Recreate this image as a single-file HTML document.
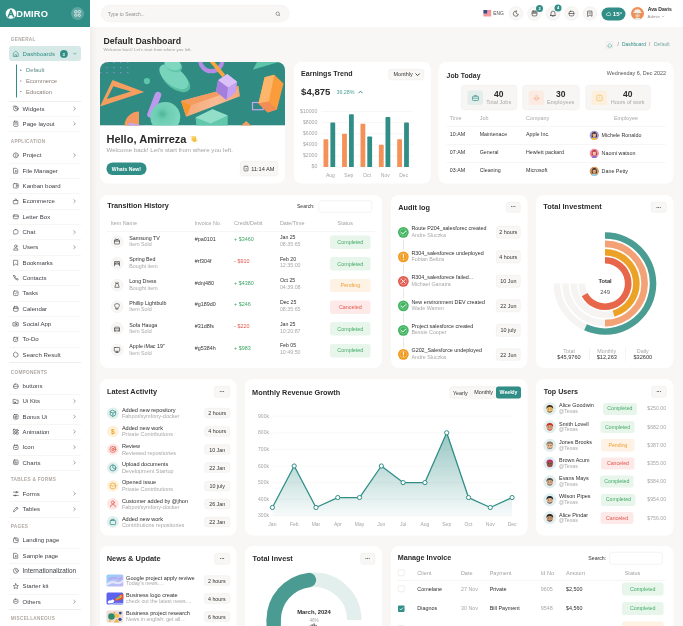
<!DOCTYPE html>
<html><head><meta charset="utf-8"><title>Admiro Default Dashboard</title>
<style>*{margin:0;padding:0;box-sizing:border-box}
html,body{width:683px;height:626px;overflow:hidden;background:#f8f7f5}
body{font-family:"Liberation Sans",Arial,sans-serif;position:relative}
.t{position:absolute;white-space:nowrap;line-height:1}
.r{position:absolute}
.s{position:absolute;overflow:visible}
#root{position:absolute;left:0;top:0;width:1366px;height:1252px;transform:scale(.5);transform-origin:0 0;overflow:hidden}
</style></head>
<body>
<div id="root">
<div class="r" style="left:0.00px;top:0.00px;width:180.00px;height:1252.00px;background:#fff;border-radius:0.00px;"></div>
<div class="r" style="left:180.00px;top:54.20px;width:14.00px;height:1200.00px;background:linear-gradient(90deg,rgba(0,0,0,0.035),rgba(0,0,0,0));border-radius:0.00px;"></div>
<div class="r" style="left:0.00px;top:0.00px;width:180.00px;height:54.10px;background:#308e87;border-radius:0.00px;"></div>
<svg class="s" style="left:10.60px;top:16.40px;" width="22.00" height="22.00" viewBox="0 0 11 11"><circle cx="5.5" cy="5.5" r="5.3" fill="#fff"/><path d="M2.6 9.3 L5.4 2.2 L8.3 9.3 M4 6.6 L7 6.6" stroke="#308e87" stroke-width="1.5" fill="none" stroke-linejoin="round"/></svg>
<div class="t" style="left:32.60px;top:17.74px;font-size:18.60px;color:#fff;font-weight:700;letter-spacing:0.30px;">DMIRO</div>
<svg class="s" style="left:142.00px;top:14.20px;" width="26.00" height="26.00" viewBox="0 0 13 13"><circle cx="6.5" cy="6.5" r="6.5" fill="rgba(255,255,255,0.22)"/><g fill="none" stroke="#fff" stroke-width="0.7"><rect x="3.6" y="3.6" width="2.3" height="2.3" rx="0.5"/><rect x="7.1" y="3.6" width="2.3" height="2.3" rx="0.5"/><circle cx="4.75" cy="8.25" r="1.15"/><circle cx="8.25" cy="8.25" r="1.15"/></g></svg>
<div class="t" style="left:21.60px;top:73.02px;font-size:9.40px;color:#b1a9a3;font-weight:700;letter-spacing:0.56px;">GENERAL</div>
<div class="r" style="left:18.20px;top:92.20px;width:143.60px;height:29.40px;background:#d7e9e6;border-radius:6.00px;"></div>
<svg class="s" style="left:25.20px;top:100.80px;" width="13.00" height="13.00" viewBox="0 0 12 12"><path d="M1.5 11 L1.5 5 L6 1.3 L10.5 5 L10.5 11 Z M4.6 11 L4.6 7.8 Q6 6.6 7.4 7.8 L7.4 11" stroke="#308e87" stroke-width="1.1" fill="none" stroke-linejoin="round"/></svg>
<div class="t" style="left:45.20px;top:100.84px;font-size:12.00px;color:#308e87;">Dashboards</div>
<svg class="s" style="left:119.60px;top:100.20px;" width="15.60" height="15.60" viewBox="0 0 7.8 7.8"><circle cx="3.9" cy="3.9" r="3.9" fill="#308e87"/></svg>
<div class="t" style="left:127.40px;top:103.55px;font-size:8.40px;color:#fff;font-weight:700;transform:translateX(-50%);">3</div>
<svg class="s" style="left:145.60px;top:105.20px;" width="7.20" height="4.80" viewBox="0 0 3.6 2.4"><path d="M0.3 0.3 L1.8 1.9 L3.3 0.3" stroke="#308e87" stroke-width="0.6" fill="none"/></svg>
<div class="r" style="left:32.00px;top:129.20px;width:1.60px;height:65.60px;background:#308e87;border-radius:0.00px;"></div>
<div class="r" style="left:40.40px;top:139.40px;width:2.20px;height:2.20px;background:#5c8d88;border-radius:2.00px;"></div>
<div class="t" style="left:52.20px;top:134.25px;font-size:11.60px;color:#5c8d88;">Default</div>
<div class="r" style="left:40.40px;top:161.00px;width:2.20px;height:2.20px;background:#8b807a;border-radius:2.00px;"></div>
<div class="t" style="left:52.20px;top:155.85px;font-size:11.60px;color:#8b807a;">Ecommerce</div>
<div class="r" style="left:40.40px;top:182.00px;width:2.20px;height:2.20px;background:#8b807a;border-radius:2.00px;"></div>
<div class="t" style="left:52.20px;top:176.85px;font-size:11.60px;color:#8b807a;">Education</div>
<div class="r" style="left:18.00px;top:202.40px;width:144.00px;height:1.20px;background:#efedea;border-radius:0.00px;"></div>
<div class="t" style="left:45.20px;top:210.59px;font-size:12.10px;color:#3c3f44;">Widgets</div>
<svg class="s" style="left:25.00px;top:210.40px;" width="13.20" height="13.20" viewBox="0 0 12 12"><circle cx="6" cy="6.5" r="4.3" stroke="#4a4d52" stroke-width="1.1" fill="none" stroke-linecap="round" stroke-linejoin="round"/><path d="M6 6.5 L6 2.2 M6 6.5 L9.8 8.5" stroke="#4a4d52" stroke-width="1.1" fill="none" stroke-linecap="round" stroke-linejoin="round"/><path d="M1 3 L3 1" stroke="#4a4d52" stroke-width="1.1" fill="none" stroke-linecap="round" stroke-linejoin="round"/></svg>
<svg class="s" style="left:145.80px;top:212.60px;" width="6.00" height="8.80" viewBox="0 0 3 4.4"><path d="M0.5 0.5 L2.4 2.2 L0.5 3.9" stroke="#6b6b6b" stroke-width="0.6" fill="none"/></svg>
<div class="r" style="left:18.00px;top:232.30px;width:144.00px;height:1.20px;background:#efedea;border-radius:0.00px;"></div>
<div class="t" style="left:45.20px;top:241.39px;font-size:12.10px;color:#3c3f44;">Page layout</div>
<svg class="s" style="left:25.00px;top:241.20px;" width="13.20" height="13.20" viewBox="0 0 12 12"><rect x="2.3" y="1.3" width="7.4" height="9.4" rx="1.4" stroke="#4a4d52" stroke-width="1.1" fill="none" stroke-linecap="round" stroke-linejoin="round"/><path d="M4.3 4 L7.7 4 M4.3 6.5 L7.7 6.5" stroke="#4a4d52" stroke-width="1.1" fill="none" stroke-linecap="round" stroke-linejoin="round"/></svg>
<svg class="s" style="left:145.80px;top:243.40px;" width="6.00" height="8.80" viewBox="0 0 3 4.4"><path d="M0.5 0.5 L2.4 2.2 L0.5 3.9" stroke="#6b6b6b" stroke-width="0.6" fill="none"/></svg>
<div class="r" style="left:18.00px;top:263.10px;width:144.00px;height:1.20px;background:#efedea;border-radius:0.00px;"></div>
<div class="t" style="left:21.60px;top:277.02px;font-size:9.40px;color:#b1a9a3;font-weight:700;letter-spacing:0.56px;">APPLICATION</div>
<div class="t" style="left:45.20px;top:304.19px;font-size:12.10px;color:#3c3f44;">Project</div>
<svg class="s" style="left:25.00px;top:304.00px;" width="13.20" height="13.20" viewBox="0 0 12 12"><circle cx="6" cy="6" r="4.5" stroke="#4a4d52" stroke-width="1.1" fill="none" stroke-linecap="round" stroke-linejoin="round"/><path d="M6 3.5 L6 8.5" stroke="#4a4d52" stroke-width="1.1" fill="none" stroke-linecap="round" stroke-linejoin="round"/></svg>
<svg class="s" style="left:145.80px;top:306.20px;" width="6.00" height="8.80" viewBox="0 0 3 4.4"><path d="M0.5 0.5 L2.4 2.2 L0.5 3.9" stroke="#6b6b6b" stroke-width="0.6" fill="none"/></svg>
<div class="r" style="left:18.00px;top:325.90px;width:144.00px;height:1.20px;background:#efedea;border-radius:0.00px;"></div>
<div class="t" style="left:45.20px;top:334.85px;font-size:12.10px;color:#3c3f44;">File Manager</div>
<svg class="s" style="left:25.00px;top:334.66px;" width="13.20" height="13.20" viewBox="0 0 12 12"><path d="M2.5 1.5 L7 1.5 L9.5 4 L9.5 10.5 L2.5 10.5 Z" stroke="#4a4d52" stroke-width="1.1" fill="none" stroke-linecap="round" stroke-linejoin="round"/><path d="M5 6.5 L7 6.5 M6 5.5 L6 8.5" stroke="#4a4d52" stroke-width="1.1" fill="none" stroke-linecap="round" stroke-linejoin="round"/></svg>
<div class="r" style="left:18.00px;top:356.56px;width:144.00px;height:1.20px;background:#efedea;border-radius:0.00px;"></div>
<div class="t" style="left:45.20px;top:365.51px;font-size:12.10px;color:#3c3f44;">Kanban board</div>
<svg class="s" style="left:25.00px;top:365.32px;" width="13.20" height="13.20" viewBox="0 0 12 12"><rect x="1.5" y="2" width="9" height="8" rx="1.8" stroke="#4a4d52" stroke-width="1.1" fill="none" stroke-linecap="round" stroke-linejoin="round"/><path d="M7 4.5 L7 7.5 L9.5 6 Z" stroke="#4a4d52" stroke-width="1.1" fill="none" stroke-linecap="round" stroke-linejoin="round"/></svg>
<div class="r" style="left:18.00px;top:387.22px;width:144.00px;height:1.20px;background:#efedea;border-radius:0.00px;"></div>
<div class="t" style="left:45.20px;top:396.17px;font-size:12.10px;color:#3c3f44;">Ecommerce</div>
<svg class="s" style="left:25.00px;top:395.98px;" width="13.20" height="13.20" viewBox="0 0 12 12"><path d="M2 4.5 L10 4.5 L9.5 10.5 L2.5 10.5 Z M4 4.5 Q4 1.5 6 1.5 Q8 1.5 8 4.5" stroke="#4a4d52" stroke-width="1.1" fill="none" stroke-linecap="round" stroke-linejoin="round"/></svg>
<svg class="s" style="left:145.80px;top:398.18px;" width="6.00" height="8.80" viewBox="0 0 3 4.4"><path d="M0.5 0.5 L2.4 2.2 L0.5 3.9" stroke="#6b6b6b" stroke-width="0.6" fill="none"/></svg>
<div class="r" style="left:18.00px;top:417.88px;width:144.00px;height:1.20px;background:#efedea;border-radius:0.00px;"></div>
<div class="t" style="left:45.20px;top:426.83px;font-size:12.10px;color:#3c3f44;">Letter Box</div>
<svg class="s" style="left:25.00px;top:426.64px;" width="13.20" height="13.20" viewBox="0 0 12 12"><rect x="1.5" y="2.5" width="9" height="7" rx="1.5" stroke="#4a4d52" stroke-width="1.1" fill="none" stroke-linecap="round" stroke-linejoin="round"/><path d="M1.5 5 L10.5 5" stroke="#4a4d52" stroke-width="1.1" fill="none" stroke-linecap="round" stroke-linejoin="round"/></svg>
<div class="r" style="left:18.00px;top:448.54px;width:144.00px;height:1.20px;background:#efedea;border-radius:0.00px;"></div>
<div class="t" style="left:45.20px;top:457.49px;font-size:12.10px;color:#3c3f44;">Chat</div>
<svg class="s" style="left:25.00px;top:457.30px;" width="13.20" height="13.20" viewBox="0 0 12 12"><path d="M6 1.8 Q10.5 1.8 10.5 6 Q10.5 10.2 6 10.2 L2 10.2 L2.6 8.4 Q1.5 7.5 1.5 6 Q1.5 1.8 6 1.8 Z" stroke="#4a4d52" stroke-width="1.1" fill="none" stroke-linecap="round" stroke-linejoin="round"/></svg>
<svg class="s" style="left:145.80px;top:459.50px;" width="6.00" height="8.80" viewBox="0 0 3 4.4"><path d="M0.5 0.5 L2.4 2.2 L0.5 3.9" stroke="#6b6b6b" stroke-width="0.6" fill="none"/></svg>
<div class="r" style="left:18.00px;top:479.20px;width:144.00px;height:1.20px;background:#efedea;border-radius:0.00px;"></div>
<div class="t" style="left:45.20px;top:488.15px;font-size:12.10px;color:#3c3f44;">Users</div>
<svg class="s" style="left:25.00px;top:487.96px;" width="13.20" height="13.20" viewBox="0 0 12 12"><circle cx="6" cy="4" r="2.3" stroke="#4a4d52" stroke-width="1.1" fill="none" stroke-linecap="round" stroke-linejoin="round"/><path d="M2 10.5 Q2 7.2 6 7.2 Q10 7.2 10 10.5 Z" stroke="#4a4d52" stroke-width="1.1" fill="none" stroke-linecap="round" stroke-linejoin="round"/></svg>
<svg class="s" style="left:145.80px;top:490.16px;" width="6.00" height="8.80" viewBox="0 0 3 4.4"><path d="M0.5 0.5 L2.4 2.2 L0.5 3.9" stroke="#6b6b6b" stroke-width="0.6" fill="none"/></svg>
<div class="r" style="left:18.00px;top:509.86px;width:144.00px;height:1.20px;background:#efedea;border-radius:0.00px;"></div>
<div class="t" style="left:45.20px;top:518.81px;font-size:12.10px;color:#3c3f44;">Bookmarks</div>
<svg class="s" style="left:25.00px;top:518.62px;" width="13.20" height="13.20" viewBox="0 0 12 12"><path d="M2.5 1.5 L9.5 1.5 L9.5 10.5 L6 8 L2.5 10.5 Z" stroke="#4a4d52" stroke-width="1.1" fill="none" stroke-linecap="round" stroke-linejoin="round"/></svg>
<div class="r" style="left:18.00px;top:540.52px;width:144.00px;height:1.20px;background:#efedea;border-radius:0.00px;"></div>
<div class="t" style="left:45.20px;top:549.47px;font-size:12.10px;color:#3c3f44;">Contacts</div>
<svg class="s" style="left:25.00px;top:549.28px;" width="13.20" height="13.20" viewBox="0 0 12 12"><path d="M2 2.5 L4 1.5 L5.5 4 L4.3 5 Q5.5 7.2 7.5 8 L8.5 6.7 L10.5 8.2 L9.5 10.3 Q4 10 2 2.5 Z" stroke="#4a4d52" stroke-width="1.1" fill="none" stroke-linecap="round" stroke-linejoin="round"/></svg>
<div class="r" style="left:18.00px;top:571.18px;width:144.00px;height:1.20px;background:#efedea;border-radius:0.00px;"></div>
<div class="t" style="left:45.20px;top:580.13px;font-size:12.10px;color:#3c3f44;">Tasks</div>
<svg class="s" style="left:25.00px;top:579.94px;" width="13.20" height="13.20" viewBox="0 0 12 12"><rect x="1.8" y="1.8" width="8.4" height="8.4" rx="1.8" stroke="#4a4d52" stroke-width="1.1" fill="none" stroke-linecap="round" stroke-linejoin="round"/><path d="M4 6 L5.5 7.5 L8 4.5" stroke="#4a4d52" stroke-width="1.1" fill="none" stroke-linecap="round" stroke-linejoin="round"/></svg>
<div class="r" style="left:18.00px;top:601.84px;width:144.00px;height:1.20px;background:#efedea;border-radius:0.00px;"></div>
<div class="t" style="left:45.20px;top:610.79px;font-size:12.10px;color:#3c3f44;">Calendar</div>
<svg class="s" style="left:25.00px;top:610.60px;" width="13.20" height="13.20" viewBox="0 0 12 12"><rect x="1.8" y="2.5" width="8.4" height="8" rx="1.8" stroke="#4a4d52" stroke-width="1.1" fill="none" stroke-linecap="round" stroke-linejoin="round"/><path d="M4 1.2 L4 3.5 M8 1.2 L8 3.5 M1.8 5.5 L10.2 5.5" stroke="#4a4d52" stroke-width="1.1" fill="none" stroke-linecap="round" stroke-linejoin="round"/></svg>
<div class="r" style="left:18.00px;top:632.50px;width:144.00px;height:1.20px;background:#efedea;border-radius:0.00px;"></div>
<div class="t" style="left:45.20px;top:641.45px;font-size:12.10px;color:#3c3f44;">Social App</div>
<svg class="s" style="left:25.00px;top:641.26px;" width="13.20" height="13.20" viewBox="0 0 12 12"><path d="M1.5 4 L4 4 L5 2.5 L7 2.5 L8 4 L10.5 4 L10.5 10 L1.5 10 Z" stroke="#4a4d52" stroke-width="1.1" fill="none" stroke-linecap="round" stroke-linejoin="round"/><circle cx="6" cy="6.8" r="1.7" stroke="#4a4d52" stroke-width="1.1" fill="none" stroke-linecap="round" stroke-linejoin="round"/></svg>
<div class="r" style="left:18.00px;top:663.16px;width:144.00px;height:1.20px;background:#efedea;border-radius:0.00px;"></div>
<div class="t" style="left:45.20px;top:672.11px;font-size:12.10px;color:#3c3f44;">To-Do</div>
<svg class="s" style="left:25.00px;top:671.92px;" width="13.20" height="13.20" viewBox="0 0 12 12"><rect x="1.8" y="2.5" width="7.5" height="7.5" rx="1.5" stroke="#4a4d52" stroke-width="1.1" fill="none" stroke-linecap="round" stroke-linejoin="round"/><path d="M4 6 L5.5 7.5 L10 2" stroke="#4a4d52" stroke-width="1.1" fill="none" stroke-linecap="round" stroke-linejoin="round"/></svg>
<div class="r" style="left:18.00px;top:693.82px;width:144.00px;height:1.20px;background:#efedea;border-radius:0.00px;"></div>
<div class="t" style="left:45.20px;top:702.77px;font-size:12.10px;color:#3c3f44;">Search Result</div>
<svg class="s" style="left:25.00px;top:702.58px;" width="13.20" height="13.20" viewBox="0 0 12 12"><path d="M6 1.5 L10 4 L10 8.5 L6 10.5 L2 8.5 L2 4 Z" stroke="#4a4d52" stroke-width="1.1" fill="none" stroke-linecap="round" stroke-linejoin="round"/></svg>
<div class="r" style="left:18.00px;top:724.48px;width:144.00px;height:1.20px;background:#efedea;border-radius:0.00px;"></div>
<div class="t" style="left:21.60px;top:738.82px;font-size:9.40px;color:#b1a9a3;font-weight:700;letter-spacing:0.56px;">COMPONENTS</div>
<div class="t" style="left:45.20px;top:765.79px;font-size:12.10px;color:#3c3f44;">buttons</div>
<svg class="s" style="left:25.00px;top:765.60px;" width="13.20" height="13.20" viewBox="0 0 12 12"><rect x="1.8" y="2" width="8.4" height="8" rx="3" stroke="#4a4d52" stroke-width="1.1" fill="none" stroke-linecap="round" stroke-linejoin="round"/><path d="M1.8 6 L10.2 6" stroke="#4a4d52" stroke-width="1.1" fill="none" stroke-linecap="round" stroke-linejoin="round"/></svg>
<div class="r" style="left:18.00px;top:787.50px;width:144.00px;height:1.20px;background:#efedea;border-radius:0.00px;"></div>
<div class="t" style="left:45.20px;top:796.35px;font-size:12.10px;color:#3c3f44;">Ui Kits</div>
<svg class="s" style="left:25.00px;top:796.16px;" width="13.20" height="13.20" viewBox="0 0 12 12"><path d="M1.8 2.5 L5 2.5 L6 3.8 L10.2 3.8 L10.2 10 L1.8 10 Z" stroke="#4a4d52" stroke-width="1.1" fill="none" stroke-linecap="round" stroke-linejoin="round"/><circle cx="4.5" cy="8" r="1.2" stroke="#4a4d52" stroke-width="1.1" fill="none" stroke-linecap="round" stroke-linejoin="round"/></svg>
<svg class="s" style="left:145.80px;top:798.36px;" width="6.00" height="8.80" viewBox="0 0 3 4.4"><path d="M0.5 0.5 L2.4 2.2 L0.5 3.9" stroke="#6b6b6b" stroke-width="0.6" fill="none"/></svg>
<div class="r" style="left:18.00px;top:818.06px;width:144.00px;height:1.20px;background:#efedea;border-radius:0.00px;"></div>
<div class="t" style="left:45.20px;top:826.91px;font-size:12.10px;color:#3c3f44;">Bonus Ui</div>
<svg class="s" style="left:25.00px;top:826.72px;" width="13.20" height="13.20" viewBox="0 0 12 12"><rect x="1.8" y="1.8" width="8.4" height="8.4" rx="1.8" stroke="#4a4d52" stroke-width="1.1" fill="none" stroke-linecap="round" stroke-linejoin="round"/><path d="M4 5 L8 5 M4 7.5 L6 7.5 M6.5 4 L6.5 9" stroke="#4a4d52" stroke-width="1.1" fill="none" stroke-linecap="round" stroke-linejoin="round"/></svg>
<svg class="s" style="left:145.80px;top:828.92px;" width="6.00" height="8.80" viewBox="0 0 3 4.4"><path d="M0.5 0.5 L2.4 2.2 L0.5 3.9" stroke="#6b6b6b" stroke-width="0.6" fill="none"/></svg>
<div class="r" style="left:18.00px;top:848.62px;width:144.00px;height:1.20px;background:#efedea;border-radius:0.00px;"></div>
<div class="t" style="left:45.20px;top:857.47px;font-size:12.10px;color:#3c3f44;">Animation</div>
<svg class="s" style="left:25.00px;top:857.28px;" width="13.20" height="13.20" viewBox="0 0 12 12"><rect x="1.5" y="1.5" width="3.8" height="3.8" rx="0.8" stroke="#4a4d52" stroke-width="1.1" fill="none" stroke-linecap="round" stroke-linejoin="round"/><circle cx="8.6" cy="3.4" r="1.9" stroke="#4a4d52" stroke-width="1.1" fill="none" stroke-linecap="round" stroke-linejoin="round"/><circle cx="3.4" cy="8.6" r="1.9" stroke="#4a4d52" stroke-width="1.1" fill="none" stroke-linecap="round" stroke-linejoin="round"/><rect x="6.7" y="6.7" width="3.8" height="3.8" rx="0.8" stroke="#4a4d52" stroke-width="1.1" fill="none" stroke-linecap="round" stroke-linejoin="round"/></svg>
<svg class="s" style="left:145.80px;top:859.48px;" width="6.00" height="8.80" viewBox="0 0 3 4.4"><path d="M0.5 0.5 L2.4 2.2 L0.5 3.9" stroke="#6b6b6b" stroke-width="0.6" fill="none"/></svg>
<div class="r" style="left:18.00px;top:879.18px;width:144.00px;height:1.20px;background:#efedea;border-radius:0.00px;"></div>
<div class="t" style="left:45.20px;top:888.03px;font-size:12.10px;color:#3c3f44;">Icon</div>
<svg class="s" style="left:25.00px;top:887.84px;" width="13.20" height="13.20" viewBox="0 0 12 12"><rect x="1.8" y="2.5" width="8.4" height="7.5" rx="1.8" stroke="#4a4d52" stroke-width="1.1" fill="none" stroke-linecap="round" stroke-linejoin="round"/><path d="M4 1.2 L4 3.5 M8 1.2 L8 3.5 M4.5 6.5 L7.5 6.5" stroke="#4a4d52" stroke-width="1.1" fill="none" stroke-linecap="round" stroke-linejoin="round"/></svg>
<svg class="s" style="left:145.80px;top:890.04px;" width="6.00" height="8.80" viewBox="0 0 3 4.4"><path d="M0.5 0.5 L2.4 2.2 L0.5 3.9" stroke="#6b6b6b" stroke-width="0.6" fill="none"/></svg>
<div class="r" style="left:18.00px;top:909.74px;width:144.00px;height:1.20px;background:#efedea;border-radius:0.00px;"></div>
<div class="t" style="left:45.20px;top:918.59px;font-size:12.10px;color:#3c3f44;">Charts</div>
<svg class="s" style="left:25.00px;top:918.40px;" width="13.20" height="13.20" viewBox="0 0 12 12"><rect x="1.8" y="1.8" width="8.4" height="8.4" rx="1.8" stroke="#4a4d52" stroke-width="1.1" fill="none" stroke-linecap="round" stroke-linejoin="round"/><path d="M4 8 L4 5 M6 8 L6 4 M8 8 L8 6" stroke="#4a4d52" stroke-width="1.1" fill="none" stroke-linecap="round" stroke-linejoin="round"/></svg>
<svg class="s" style="left:145.80px;top:920.60px;" width="6.00" height="8.80" viewBox="0 0 3 4.4"><path d="M0.5 0.5 L2.4 2.2 L0.5 3.9" stroke="#6b6b6b" stroke-width="0.6" fill="none"/></svg>
<div class="r" style="left:18.00px;top:940.30px;width:144.00px;height:1.20px;background:#efedea;border-radius:0.00px;"></div>
<div class="t" style="left:21.60px;top:954.02px;font-size:9.40px;color:#b1a9a3;font-weight:700;letter-spacing:0.56px;">TABLES &amp; FORMS</div>
<div class="t" style="left:45.20px;top:981.39px;font-size:12.10px;color:#3c3f44;">Forms</div>
<svg class="s" style="left:25.00px;top:981.20px;" width="13.20" height="13.20" viewBox="0 0 12 12"><path d="M1.5 3 L6 3 M8.5 3 L10.5 3 M1.5 9 L3.5 9 M6 9 L10.5 9" stroke="#4a4d52" stroke-width="1.1" fill="none" stroke-linecap="round" stroke-linejoin="round"/><circle cx="7.2" cy="3" r="1.2" stroke="#4a4d52" stroke-width="1.1" fill="none" stroke-linecap="round" stroke-linejoin="round"/><circle cx="4.8" cy="9" r="1.2" stroke="#4a4d52" stroke-width="1.1" fill="none" stroke-linecap="round" stroke-linejoin="round"/></svg>
<svg class="s" style="left:145.80px;top:983.40px;" width="6.00" height="8.80" viewBox="0 0 3 4.4"><path d="M0.5 0.5 L2.4 2.2 L0.5 3.9" stroke="#6b6b6b" stroke-width="0.6" fill="none"/></svg>
<div class="r" style="left:18.00px;top:1003.10px;width:144.00px;height:1.20px;background:#efedea;border-radius:0.00px;"></div>
<div class="t" style="left:45.20px;top:1011.79px;font-size:12.10px;color:#3c3f44;">Tables</div>
<svg class="s" style="left:25.00px;top:1011.60px;" width="13.20" height="13.20" viewBox="0 0 12 12"><path d="M2 10 L2.5 7.5 L8 2 L10 4 L4.5 9.5 Z M7 3 L9 5" stroke="#4a4d52" stroke-width="1.1" fill="none" stroke-linecap="round" stroke-linejoin="round"/></svg>
<svg class="s" style="left:145.80px;top:1013.80px;" width="6.00" height="8.80" viewBox="0 0 3 4.4"><path d="M0.5 0.5 L2.4 2.2 L0.5 3.9" stroke="#6b6b6b" stroke-width="0.6" fill="none"/></svg>
<div class="r" style="left:18.00px;top:1033.50px;width:144.00px;height:1.20px;background:#efedea;border-radius:0.00px;"></div>
<div class="t" style="left:21.60px;top:1047.02px;font-size:9.40px;color:#b1a9a3;font-weight:700;letter-spacing:0.56px;">PAGES</div>
<div class="t" style="left:45.20px;top:1074.39px;font-size:12.10px;color:#3c3f44;">Landing page</div>
<svg class="s" style="left:25.00px;top:1074.20px;" width="13.20" height="13.20" viewBox="0 0 12 12"><rect x="1.8" y="1.8" width="8.4" height="8.4" rx="1.8" stroke="#4a4d52" stroke-width="1.1" fill="none" stroke-linecap="round" stroke-linejoin="round"/><path d="M6 1.8 L6 6 L10.2 6" stroke="#4a4d52" stroke-width="1.1" fill="none" stroke-linecap="round" stroke-linejoin="round"/></svg>
<div class="r" style="left:18.00px;top:1096.10px;width:144.00px;height:1.20px;background:#efedea;border-radius:0.00px;"></div>
<div class="t" style="left:45.20px;top:1104.95px;font-size:12.10px;color:#3c3f44;">Sample page</div>
<svg class="s" style="left:25.00px;top:1104.76px;" width="13.20" height="13.20" viewBox="0 0 12 12"><path d="M2.5 1.5 L7 1.5 L9.5 4 L9.5 10.5 L2.5 10.5 Z" stroke="#4a4d52" stroke-width="1.1" fill="none" stroke-linecap="round" stroke-linejoin="round"/><path d="M5 6.5 L7 6.5 M6 5.5 L6 8.5" stroke="#4a4d52" stroke-width="1.1" fill="none" stroke-linecap="round" stroke-linejoin="round"/></svg>
<div class="r" style="left:18.00px;top:1126.66px;width:144.00px;height:1.20px;background:#efedea;border-radius:0.00px;"></div>
<div class="t" style="left:45.20px;top:1135.17px;font-size:12.74px;color:#3c3f44;">Internationalization</div>
<svg class="s" style="left:25.00px;top:1135.32px;" width="13.20" height="13.20" viewBox="0 0 12 12"><circle cx="6" cy="6" r="4.5" stroke="#4a4d52" stroke-width="1.1" fill="none" stroke-linecap="round" stroke-linejoin="round"/><path d="M6 3.5 L6 6.5 L7.8 7.5" stroke="#4a4d52" stroke-width="1.1" fill="none" stroke-linecap="round" stroke-linejoin="round"/></svg>
<div class="r" style="left:18.00px;top:1157.22px;width:144.00px;height:1.20px;background:#efedea;border-radius:0.00px;"></div>
<div class="t" style="left:45.20px;top:1166.07px;font-size:12.10px;color:#3c3f44;">Starter kit</div>
<svg class="s" style="left:25.00px;top:1165.88px;" width="13.20" height="13.20" viewBox="0 0 12 12"><path d="M6 1.3 L7.4 4.4 L10.7 4.7 L8.2 7 L9 10.3 L6 8.6 L3 10.3 L3.8 7 L1.3 4.7 L4.6 4.4 Z" stroke="#4a4d52" stroke-width="1.1" fill="none" stroke-linecap="round" stroke-linejoin="round"/></svg>
<div class="r" style="left:18.00px;top:1187.78px;width:144.00px;height:1.20px;background:#efedea;border-radius:0.00px;"></div>
<div class="t" style="left:45.20px;top:1196.63px;font-size:12.10px;color:#3c3f44;">Others</div>
<svg class="s" style="left:25.00px;top:1196.44px;" width="13.20" height="13.20" viewBox="0 0 12 12"><rect x="1.8" y="2" width="8.4" height="8" rx="3.5" stroke="#4a4d52" stroke-width="1.1" fill="none" stroke-linecap="round" stroke-linejoin="round"/><path d="M3.8 6 L8.2 6" stroke="#4a4d52" stroke-width="1.1" fill="none" stroke-linecap="round" stroke-linejoin="round"/></svg>
<svg class="s" style="left:145.80px;top:1198.64px;" width="6.00" height="8.80" viewBox="0 0 3 4.4"><path d="M0.5 0.5 L2.4 2.2 L0.5 3.9" stroke="#6b6b6b" stroke-width="0.6" fill="none"/></svg>
<div class="r" style="left:18.00px;top:1218.34px;width:144.00px;height:1.20px;background:#efedea;border-radius:0.00px;"></div>
<div class="t" style="left:21.60px;top:1231.42px;font-size:9.40px;color:#b1a9a3;font-weight:700;letter-spacing:0.56px;">MISCELLANEOUS</div>
<div class="r" style="left:180.00px;top:0.00px;width:1186.00px;height:54.20px;background:#fff;border-radius:0.00px;"></div>
<div class="r" style="left:201.60px;top:10.20px;width:377.20px;height:33.40px;background:#f8f7f5;border-radius:16.80px;border:1.00px solid #efedea;box-sizing:border-box;"></div>
<div class="t" style="left:215.60px;top:22.62px;font-size:9.78px;color:#8e8e8e;">Type to Search...</div>
<svg class="s" style="left:551.40px;top:23.00px;" width="10.00" height="10.00" viewBox="0 0 5 5"><circle cx="2.2" cy="2.2" r="1.7" stroke="#555" stroke-width="0.55" fill="none"/><path d="M3.4 3.4 L4.5 4.5" stroke="#555" stroke-width="0.55"/></svg>
<svg class="s" style="left:967.00px;top:20.00px;" width="15.40" height="13.20" viewBox="0 0 7.7 6.6"><rect width="7.7" height="6.6" fill="#fff"/><rect y="0.00" width="7.7" height="0.55" fill="#e03a45"/><rect y="0.95" width="7.7" height="0.55" fill="#e03a45"/><rect y="1.90" width="7.7" height="0.55" fill="#e03a45"/><rect y="2.85" width="7.7" height="0.55" fill="#e03a45"/><rect y="3.80" width="7.7" height="0.55" fill="#e03a45"/><rect y="4.75" width="7.7" height="0.55" fill="#e03a45"/><rect y="5.70" width="7.7" height="0.55" fill="#e03a45"/><rect width="3.6" height="3.5" fill="#34508f"/></svg>
<div class="t" style="left:986.40px;top:22.06px;font-size:9.70px;color:#4a4a4a;">ENG</div>
<svg class="s" style="left:1017.60px;top:13.00px;" width="28.00" height="28.00" viewBox="0 0 14 14"><circle cx="7" cy="7" r="6.8" fill="#f8f7f5" stroke="#ebe9e6" stroke-width="0.5"/></svg>
<svg class="s" style="left:1054.60px;top:13.00px;" width="28.00" height="28.00" viewBox="0 0 14 14"><circle cx="7" cy="7" r="6.8" fill="#f8f7f5" stroke="#ebe9e6" stroke-width="0.5"/></svg>
<svg class="s" style="left:1091.60px;top:13.00px;" width="28.00" height="28.00" viewBox="0 0 14 14"><circle cx="7" cy="7" r="6.8" fill="#f8f7f5" stroke="#ebe9e6" stroke-width="0.5"/></svg>
<svg class="s" style="left:1128.60px;top:13.00px;" width="28.00" height="28.00" viewBox="0 0 14 14"><circle cx="7" cy="7" r="6.8" fill="#f8f7f5" stroke="#ebe9e6" stroke-width="0.5"/></svg>
<svg class="s" style="left:1166.00px;top:13.00px;" width="28.00" height="28.00" viewBox="0 0 14 14"><circle cx="7" cy="7" r="6.8" fill="#f8f7f5" stroke="#ebe9e6" stroke-width="0.5"/></svg>
<svg class="s" style="left:1025.60px;top:21.00px;" width="12.00" height="12.00" viewBox="0 0 6 6"><path d="M3.2 0.6 A2.6 2.6 0 1 0 5.4 3.8 A2.2 2.2 0 0 1 3.2 0.6 Z" stroke="#3a3a3a" stroke-width="0.65" fill="none" stroke-linecap="round" stroke-linejoin="round"/></svg>
<svg class="s" style="left:1062.60px;top:21.00px;" width="12.00" height="12.00" viewBox="0 0 6 6"><rect x="0.6" y="0.6" width="4.8" height="4.8" rx="0.9" stroke="#3a3a3a" stroke-width="0.65" fill="none" stroke-linecap="round" stroke-linejoin="round"/><path d="M0.6 2.6 L5.4 2.6 M2.3 0.6 L2.3 2.6 M3.7 0.6 L3.7 2.6" stroke="#3a3a3a" stroke-width="0.65" fill="none" stroke-linecap="round" stroke-linejoin="round"/></svg>
<svg class="s" style="left:1099.60px;top:21.00px;" width="12.00" height="12.00" viewBox="0 0 6 6"><path d="M1 4.4 L1 2.8 Q1 0.6 3 0.6 Q5 0.6 5 2.8 L5 4.4 L5.6 5 L0.4 5 Z M2.2 5.6 L3.8 5.6" stroke="#3a3a3a" stroke-width="0.65" fill="none" stroke-linecap="round" stroke-linejoin="round"/></svg>
<svg class="s" style="left:1136.60px;top:21.00px;" width="12.00" height="12.00" viewBox="0 0 6 6"><rect x="0.6" y="0.8" width="4.8" height="4.6" rx="1.5" stroke="#3a3a3a" stroke-width="0.65" fill="none" stroke-linecap="round" stroke-linejoin="round"/><path d="M0.6 3 L5.4 3" stroke="#3a3a3a" stroke-width="0.65" fill="none" stroke-linecap="round" stroke-linejoin="round"/></svg>
<svg class="s" style="left:1174.00px;top:20.80px;" width="12.00" height="12.80" viewBox="0 0 6 6.4"><path d="M1 0.6 L5 0.6 L5 5.8 L3 4.4 L1 5.8 Z" stroke="#3a3a3a" stroke-width="0.65" fill="none" stroke-linecap="round" stroke-linejoin="round"/><path d="M2 2.5 L4 2.5" stroke="#3a3a3a" stroke-width="0.65" fill="none" stroke-linecap="round" stroke-linejoin="round"/></svg>
<svg class="s" style="left:1072.20px;top:9.60px;" width="14.00" height="14.00" viewBox="0 0 7 7"><circle cx="3.5" cy="3.5" r="3.5" fill="#308e87"/></svg>
<div class="t" style="left:1079.20px;top:12.56px;font-size:8.00px;color:#fff;font-weight:700;transform:translateX(-50%);">2</div>
<svg class="s" style="left:1109.40px;top:9.00px;" width="14.00" height="14.00" viewBox="0 0 7 7"><circle cx="3.5" cy="3.5" r="3.5" fill="#308e87"/></svg>
<div class="t" style="left:1116.40px;top:11.96px;font-size:8.00px;color:#fff;font-weight:700;transform:translateX(-50%);">4</div>
<div class="r" style="left:1203.20px;top:15.20px;width:48.00px;height:25.40px;background:#308e87;border-radius:13.00px;"></div>
<svg class="s" style="left:1212.40px;top:23.80px;" width="10.00" height="8.00" viewBox="0 0 5 4"><path d="M1.3 3.5 Q0.3 3.5 0.3 2.5 Q0.3 1.6 1.3 1.6 Q1.6 0.4 2.8 0.4 Q4.2 0.4 4.3 1.8 Q4.8 2 4.8 2.7 Q4.8 3.5 3.9 3.5 Z" stroke="#fff" stroke-width="0.6" fill="none"/></svg>
<div class="t" style="left:1225.60px;top:21.43px;font-size:12.40px;color:#fff;font-weight:700;">15°</div>
<svg class="s" style="left:1262.20px;top:14.00px;" width="26.00" height="26.00" viewBox="0 0 13 13"><circle cx="6.5" cy="6.5" r="6.5" fill="#f08f55"/><path d="M3.2 5.4 Q3.2 2.2 6.5 2.2 Q9.8 2.2 9.8 5.4 Z" fill="#f3f0ea"/><rect x="2.2" y="5.0" width="8.6" height="1.0" rx="0.5" fill="#eeeae2"/><path d="M4 6.2 Q4 10.5 6.5 10.5 Q9 10.5 9 6.2 Z" fill="#f6c7a4"/><path d="M4.2 7 L5.8 7 M7.2 7 L8.8 7" stroke="#555" stroke-width="0.5"/><path d="M3 13 Q3 10.8 6.5 10.8 Q10 10.8 10 13 Z" fill="#eaeaea"/></svg>
<div class="t" style="left:1295.60px;top:14.44px;font-size:10.12px;color:#2b2b2b;font-weight:700;">Ava Davis</div>
<div class="t" style="left:1295.20px;top:28.17px;font-size:8.74px;color:#949494;">Admin</div>
<svg class="s" style="left:1323.20px;top:31.20px;" width="6.00" height="4.00" viewBox="0 0 3 2"><path d="M0.3 0.3 L1.5 1.5 L2.7 0.3" stroke="#a0a0a0" stroke-width="0.5" fill="none"/></svg>
<div class="t" style="left:206.80px;top:72.94px;font-size:17.48px;color:#2b2b2b;font-weight:700;">Default Dashboard</div>
<div class="t" style="left:206.80px;top:95.02px;font-size:8.64px;color:#a3a3a3;">Welcome back! Let's start from where you left.</div>
<div class="r" style="left:1212.00px;top:82.80px;width:14.40px;height:14.40px;background:#fbfaf9;border-radius:3.00px;border:1.20px solid #dedbd7;box-sizing:border-box;"></div>
<svg class="s" style="left:1214.80px;top:85.60px;" width="8.80" height="8.80" viewBox="0 0 4.4 4.4"><path d="M0.5 4 L0.5 1.9 L2.2 0.5 L3.9 1.9 L3.9 4 Z" stroke="#308e87" stroke-width="0.5" fill="none"/></svg>
<div class="t" style="left:1235.00px;top:83.90px;font-size:10.00px;color:#777;">/</div>
<div class="t" style="left:1244.00px;top:84.02px;font-size:9.78px;color:#308e87;">Dashboard</div>
<div class="t" style="left:1297.60px;top:83.90px;font-size:10.00px;color:#777;">/</div>
<div class="t" style="left:1308.00px;top:83.94px;font-size:9.92px;color:#79aaa5;">Default</div>
<div class="r" style="left:200.00px;top:124.00px;width:370.40px;height:242.60px;background:#fff;border-radius:16.00px;"></div>
<svg class="s" style="left:200.00px;top:124.00px;border-radius:16.00px 16.00px 0 0;overflow:hidden;" width="370.40" height="127.20" viewBox="0 0 185.2 63.6"><defs><radialGradient id="gm" cx="0.4" cy="0.4" r="0.65"><stop offset="0" stop-color="#4fb498"/><stop offset="0.3" stop-color="#6ccdb2"/><stop offset="1" stop-color="#80d9c0"/></radialGradient><linearGradient id="gp" x1="0" y1="0" x2="1" y2="0"><stop offset="0" stop-color="#f6a673"/><stop offset="0.6" stop-color="#f8bb95"/><stop offset="1" stop-color="#f5a878"/></linearGradient></defs><rect width="185.2" height="63.6" fill="#308b82"/><circle cx="0.7" cy="0.6" r="0.65" fill="#a98be6"/><circle cx="7.0" cy="0.6" r="0.65" fill="#a98be6"/><circle cx="13.9" cy="0.6" r="0.65" fill="#a98be6"/><circle cx="20.9" cy="0.6" r="0.65" fill="#a98be6"/><circle cx="27.8" cy="0.6" r="0.65" fill="#a98be6"/><circle cx="0.7" cy="5.6" r="0.65" fill="#a98be6"/><circle cx="7.0" cy="5.6" r="0.65" fill="#a98be6"/><circle cx="13.9" cy="5.6" r="0.65" fill="#a98be6"/><circle cx="20.9" cy="5.6" r="0.65" fill="#a98be6"/><circle cx="27.8" cy="5.6" r="0.65" fill="#a98be6"/><circle cx="0.7" cy="10.7" r="0.65" fill="#a98be6"/><circle cx="7.0" cy="10.7" r="0.65" fill="#a98be6"/><circle cx="13.9" cy="10.7" r="0.65" fill="#a98be6"/><circle cx="20.9" cy="10.7" r="0.65" fill="#a98be6"/><circle cx="27.8" cy="10.7" r="0.65" fill="#a98be6"/><path d="M0.0 44.5 L12.5 18.1 L44.2 29.9 Z M6.8 37.0 L13.3 24.2 L31.0 29.6 Z" fill="#f69e60" fill-rule="evenodd"/><circle cx="46.900000000000006" cy="19.099999999999994" r="3.1" fill="#5ec6ad"/><ellipse cx="75.5" cy="17.5" rx="17.2" ry="9.2" transform="rotate(38 75.5 17.5)" fill="#58bea2"/><ellipse cx="73.80000000000001" cy="14.799999999999997" rx="17" ry="8.8" transform="rotate(38 73.80000000000001 14.799999999999997)" fill="#78d4bb"/><ellipse cx="73.5" cy="3.5" rx="9" ry="6.2" transform="rotate(25 73.5 3.5)" fill="#5fc6aa"/><ellipse cx="72.5" cy="2" rx="8.6" ry="5.8" transform="rotate(25 72.5 2)" fill="#7fd7bf"/><line x1="58" y1="33" x2="50.5" y2="52.5" stroke="#bd98ee" stroke-width="6.5" stroke-linecap="round"/><circle cx="65.30000000000001" cy="55" r="15" fill="url(#gm)"/><path d="M39 64 L24.400000000000006 64 A14.6 14.6 0 0 1 39 49.400000000000006 Z" fill="#f49a60"/><path d="M27.5 64 L29.5 60.599999999999994 L45 64 Z" fill="#c7a6f0"/><path d="M100.1 -2 A11.2 11.2 0 0 0 122.5 -2" stroke="#b48ce6" stroke-width="4.2" fill="none"/><line x1="111.5" y1="-1" x2="123.80000000000001" y2="14" stroke="#f6a63e" stroke-width="3.8"/><polygon points="81,38.900000000000006 138.3,23.700000000000003 140,34.3 86.19999999999999,54.7" fill="url(#gp)"/><polygon points="81.0,38.9 138.3,23.7 138.8,26.6 91.0,43.3" fill="#f39c62" /><polygon points="81.0,38.9 91.0,43.3 86.2,54.7" fill="#f8962c" /><polygon points="127.2,12.0 137.1,19.7 135.7,30.2 126.5,38.0 116.0,29.5 118.1,18.3" fill="#c5a2f1" /><polygon points="118.1,18.3 127.2,12.0 137.1,19.7 128.0,25.5" fill="#dcc0f8" /><polygon points="116.0,29.5 118.1,18.3 128.0,25.5 126.5,38.0" fill="#a27fdd" /><polygon points="95.5,55.5 112.5,47.2 127.7,53.5 127.7,64.0 96.5,64.0" fill="#62c8ab" /><polygon points="95.5,55.5 112.5,47.2 127.7,53.5 110.5,61.5" fill="#93dec9" /><polygon points="152.9,7.7 157.0,0.0 179.0,0.0" fill="#5ec4aa" /><rect x="152.5" y="40.5" width="10.6" height="7.2" fill="none" stroke="#c9a5f0" stroke-width="1.2"/><polygon points="164.6,15.3 174.3,12.8 183.5,21.5 176.9,47.5 167.7,50.6 158.5,41.4" fill="#fa9c3c" /><polygon points="164.6,15.3 174.3,12.8 168.8,39.4 158.5,41.4" fill="#fdb66a" /><polygon points="158.5,41.4 168.8,39.4 176.9,47.5 167.7,50.6" fill="#f18d55" /><polygon points="140.6,64.0 146.2,59.0 151.8,64.0" fill="#f39a5f" /></svg>
<div class="t" style="left:212.80px;top:267.07px;font-size:22.14px;color:#2b2b2b;font-weight:700;">Hello, Amirreza</div>
<svg class="s" style="left:380.60px;top:271.20px;" width="14.40" height="14.40" viewBox="0 0 7.2 7.2"><g transform="rotate(-20 3.6 3.6)"><rect x="1.6" y="2.6" width="4.2" height="4" rx="1.6" fill="#f6c343"/><rect x="1.6" y="0.6" width="1" height="3.5" rx="0.5" fill="#f6c343"/><rect x="2.7" y="0.2" width="1" height="3.5" rx="0.5" fill="#f6c343"/><rect x="3.8" y="0.4" width="1" height="3.5" rx="0.5" fill="#f6c343"/><rect x="4.9" y="1.0" width="0.95" height="3.2" rx="0.45" fill="#f6c343"/><rect x="0.3" y="3.4" width="2.4" height="1" rx="0.5" transform="rotate(40 1.5 3.9)" fill="#f6c343"/></g><path d="M0.4 1.6 Q0.2 0.8 0.8 0.4 M6.4 6 Q6.9 5.6 6.9 5" stroke="#e0a82e" stroke-width="0.35" fill="none"/></svg>
<div class="t" style="left:212.80px;top:293.04px;font-size:12.38px;color:#a3a3a3;">Welcome back! Let's start from where you left.</div>
<div class="r" style="left:212.80px;top:325.40px;width:80.00px;height:24.20px;background:#308e87;border-radius:12.00px;"></div>
<div class="t" style="left:252.80px;top:333.15px;font-size:10.28px;color:#fff;font-weight:700;transform:translateX(-50%);">Whats New!</div>
<div class="r" style="left:480.00px;top:321.60px;width:76.00px;height:30.80px;background:#f8f7f5;border-radius:5.00px;border:1.00px solid #ebe9e6;box-sizing:border-box;"></div>
<svg class="s" style="left:486.60px;top:330.60px;" width="10.00" height="12.00" viewBox="0 0 5 6"><rect x="0.5" y="0.8" width="4" height="4.6" rx="0.7" stroke="#333" stroke-width="0.55" fill="none"/><path d="M1.5 0.3 L1.5 1.3 M3.5 0.3 L3.5 1.3 M2.5 2.5 L2.5 3.6 L3.3 3.6" stroke="#333" stroke-width="0.5" fill="none"/></svg>
<div class="t" style="left:502.40px;top:331.65px;font-size:11.22px;color:#333;">11:14 AM</div>
<div class="r" style="left:587.60px;top:124.00px;width:274.20px;height:242.60px;background:#fff;border-radius:16.00px;"></div>
<div class="t" style="left:602.20px;top:139.90px;font-size:14.16px;color:#2b2b2b;font-weight:700;">Earnings Trend</div>
<div class="r" style="left:776.80px;top:138.20px;width:71.00px;height:21.40px;background:#f8f7f5;border-radius:5.00px;border:1.00px solid #ebe9e6;box-sizing:border-box;"></div>
<div class="t" style="left:787.20px;top:143.24px;font-size:10.86px;color:#333;">Monthly</div>
<svg class="s" style="left:830.20px;top:145.60px;" width="10.40" height="6.40" viewBox="0 0 5.2 3.2"><path d="M0.5 0.5 L2.6 2.6 L4.7 0.5" stroke="#333" stroke-width="0.9" fill="none"/></svg>
<div class="t" style="left:602.20px;top:173.45px;font-size:19.16px;color:#2b2b2b;font-weight:700;">$4,875</div>
<div class="t" style="left:672.80px;top:178.91px;font-size:10.74px;color:#4f9e96;">36.28%</div>
<svg class="s" style="left:715.60px;top:181.20px;" width="10.00" height="6.40" viewBox="0 0 5 3.2"><path d="M0.5 2.7 L2.5 0.7 L4.5 2.7" stroke="#308e87" stroke-width="1" fill="none"/></svg>
<svg class="s" style="left:587.60px;top:124.00px;" width="274.00" height="242.00" viewBox="0 0 137 121"><line x1="27.5" y1="105.0" x2="119.39999999999998" y2="105.0" stroke="#f1efed" stroke-width="0.5"/><line x1="27.5" y1="93.9" x2="119.39999999999998" y2="93.9" stroke="#f1efed" stroke-width="0.5"/><line x1="27.5" y1="82.80000000000001" x2="119.39999999999998" y2="82.80000000000001" stroke="#f1efed" stroke-width="0.5"/><line x1="27.5" y1="71.69999999999999" x2="119.39999999999998" y2="71.69999999999999" stroke="#f1efed" stroke-width="0.5"/><line x1="27.5" y1="60.599999999999994" x2="119.39999999999998" y2="60.599999999999994" stroke="#f1efed" stroke-width="0.5"/><line x1="27.5" y1="49.5" x2="119.39999999999998" y2="49.5" stroke="#f1efed" stroke-width="0.5"/><path d="M29.50 105.00 L29.50 78.05 Q29.50 77.25 30.30 77.25 L33.50 77.25 Q34.30 77.25 34.30 78.05 L34.30 105.00 Z" fill="#f39159"/><path d="M36.40 105.00 L36.40 61.40 Q36.40 60.60 37.20 60.60 L40.40 60.60 Q41.20 60.60 41.20 61.40 L41.20 105.00 Z" fill="#308e87"/><path d="M48.10 105.00 L48.10 72.50 Q48.10 71.70 48.90 71.70 L52.10 71.70 Q52.90 71.70 52.90 72.50 L52.90 105.00 Z" fill="#f39159"/><path d="M55.00 105.00 L55.00 53.08 Q55.00 52.28 55.80 52.28 L59.00 52.28 Q59.80 52.28 59.80 53.08 L59.80 105.00 Z" fill="#308e87"/><path d="M66.50 105.00 L66.50 62.51 Q66.50 61.71 67.30 61.71 L70.50 61.71 Q71.30 61.71 71.30 62.51 L71.30 105.00 Z" fill="#f39159"/><path d="M73.30 105.00 L73.30 75.27 Q73.30 74.47 74.10 74.47 L77.30 74.47 Q78.10 74.47 78.10 75.27 L78.10 105.00 Z" fill="#308e87"/><path d="M84.90 105.00 L84.90 83.60 Q84.90 82.80 85.70 82.80 L88.90 82.80 Q89.70 82.80 89.70 83.60 L89.70 105.00 Z" fill="#f39159"/><path d="M91.50 105.00 L91.50 55.85 Q91.50 55.05 92.30 55.05 L95.50 55.05 Q96.30 55.05 96.30 55.85 L96.30 105.00 Z" fill="#308e87"/><path d="M103.20 105.00 L103.20 78.05 Q103.20 77.25 104.00 77.25 L107.20 77.25 Q108.00 77.25 108.00 78.05 L108.00 105.00 Z" fill="#f39159"/><path d="M110.10 105.00 L110.10 61.40 Q110.10 60.60 110.90 60.60 L114.10 60.60 Q114.90 60.60 114.90 61.40 L114.90 105.00 Z" fill="#308e87"/></svg>
<div class="t" style="left:634.80px;top:328.49px;font-size:10.40px;color:#a5a5a5;transform:translateX(-100%);">$0</div>
<div class="t" style="left:634.80px;top:306.29px;font-size:10.40px;color:#a5a5a5;transform:translateX(-100%);">$2000</div>
<div class="t" style="left:634.80px;top:284.09px;font-size:10.40px;color:#a5a5a5;transform:translateX(-100%);">$4000</div>
<div class="t" style="left:634.80px;top:261.89px;font-size:10.40px;color:#a5a5a5;transform:translateX(-100%);">$6000</div>
<div class="t" style="left:634.80px;top:239.69px;font-size:10.40px;color:#a5a5a5;transform:translateX(-100%);">$8000</div>
<div class="t" style="left:634.80px;top:217.49px;font-size:10.40px;color:#a5a5a5;transform:translateX(-100%);">$10000</div>
<div class="t" style="left:660.80px;top:345.30px;font-size:10.00px;color:#a5a5a5;transform:translateX(-50%);">Aug</div>
<div class="t" style="left:697.60px;top:345.30px;font-size:10.00px;color:#a5a5a5;transform:translateX(-50%);">Sep</div>
<div class="t" style="left:734.00px;top:345.30px;font-size:10.00px;color:#a5a5a5;transform:translateX(-50%);">Oct</div>
<div class="t" style="left:770.60px;top:345.30px;font-size:10.00px;color:#a5a5a5;transform:translateX(-50%);">Nov</div>
<div class="t" style="left:807.40px;top:345.30px;font-size:10.00px;color:#a5a5a5;transform:translateX(-50%);">Dec</div>
<div class="r" style="left:877.00px;top:124.00px;width:470.00px;height:242.60px;background:#fff;border-radius:16.00px;"></div>
<div class="t" style="left:893.20px;top:144.91px;font-size:13.76px;color:#2b2b2b;font-weight:700;">Job Today</div>
<div class="t" style="left:1332.00px;top:139.65px;font-size:10.84px;color:#555;transform:translateX(-100%);">Wednesday 6, Dec 2022</div>
<div class="r" style="left:922.40px;top:170.40px;width:111.40px;height:50.00px;background:#f7f6f4;border-radius:6.00px;border:1.00px solid #efedea;box-sizing:border-box;"></div>
<div class="r" style="left:935.00px;top:181.20px;width:31.00px;height:28.60px;background:#e3eeec;border-radius:5.00px;"></div>
<svg class="s" style="left:943.50px;top:189.50px;" width="14.00" height="12.00" viewBox="0 0 7 6"><rect x="0.5" y="1.3" width="6" height="4.2" rx="0.8" stroke="#308e87" stroke-width="0.7" fill="none"/><path d="M2.5 1.3 L2.5 0.5 L4.5 0.5 L4.5 1.3 M0.5 3.2 L6.5 3.2" stroke="#308e87" stroke-width="0.6" fill="none"/></svg>
<div class="t" style="left:997.50px;top:178.99px;font-size:17.00px;color:#2b2b2b;font-weight:700;transform:translateX(-50%);">40</div>
<div class="t" style="left:997.50px;top:198.77px;font-size:11.00px;color:#a9a9a9;transform:translateX(-50%);">Total Jobs</div>
<div class="r" style="left:1044.60px;top:170.40px;width:114.60px;height:50.00px;background:#f7f6f4;border-radius:6.00px;border:1.00px solid #efedea;box-sizing:border-box;"></div>
<div class="r" style="left:1057.20px;top:181.20px;width:31.00px;height:28.60px;background:#fcebe3;border-radius:5.00px;"></div>
<svg class="s" style="left:1065.70px;top:189.50px;" width="14.00" height="12.00" viewBox="0 0 7 6"><path d="M0.5 3 L6.5 3 M1.5 3 Q1.5 5.2 3.5 5.2 Q5.5 5.2 5.5 3 M2.3 1 L4.7 1" stroke="#f2a07a" stroke-width="0.6" fill="none"/></svg>
<div class="t" style="left:1121.30px;top:178.99px;font-size:17.00px;color:#2b2b2b;font-weight:700;transform:translateX(-50%);">30</div>
<div class="t" style="left:1121.30px;top:198.77px;font-size:11.00px;color:#a9a9a9;transform:translateX(-50%);">Employees</div>
<div class="r" style="left:1170.80px;top:170.40px;width:130.20px;height:50.00px;background:#f7f6f4;border-radius:6.00px;border:1.00px solid #efedea;box-sizing:border-box;"></div>
<div class="r" style="left:1183.40px;top:181.20px;width:31.00px;height:28.60px;background:#fcf0dc;border-radius:5.00px;"></div>
<svg class="s" style="left:1191.90px;top:188.50px;" width="14.00" height="14.00" viewBox="0 0 7 7"><rect x="0.8" y="0.8" width="5.4" height="5.4" rx="1" stroke="#f0b54c" stroke-width="0.6" fill="none"/><path d="M3.5 2.3 L3.5 3.7 L4.5 3.7" stroke="#f0b54c" stroke-width="0.5" fill="none"/></svg>
<div class="t" style="left:1255.30px;top:178.99px;font-size:17.00px;color:#2b2b2b;font-weight:700;transform:translateX(-50%);">40</div>
<div class="t" style="left:1255.30px;top:198.77px;font-size:11.00px;color:#a9a9a9;transform:translateX(-50%);">Hours of work</div>
<div class="t" style="left:899.60px;top:229.88px;font-size:10.80px;color:#a9a9a9;">Time</div>
<div class="t" style="left:959.40px;top:229.88px;font-size:10.80px;color:#a9a9a9;">Job</div>
<div class="t" style="left:1052.00px;top:229.88px;font-size:10.80px;color:#a9a9a9;">Company</div>
<div class="t" style="left:1252.00px;top:229.88px;font-size:10.80px;color:#a9a9a9;transform:translateX(-50%);">Employee</div>
<div class="r" style="left:893.20px;top:253.00px;width:438.20px;height:1.00px;background:#efedea;border-radius:0.00px;"></div>
<div class="r" style="left:893.20px;top:288.80px;width:438.20px;height:1.00px;background:#efedea;border-radius:0.00px;"></div>
<div class="r" style="left:893.20px;top:324.80px;width:438.20px;height:1.00px;background:#efedea;border-radius:0.00px;"></div>
<div class="t" style="left:899.60px;top:263.18px;font-size:10.60px;color:#333;">10:AM</div>
<div class="t" style="left:959.40px;top:263.18px;font-size:10.60px;color:#333;">Maintenace</div>
<div class="t" style="left:1052.00px;top:263.18px;font-size:10.60px;color:#333;">Apple Inc.</div>
<svg class="s" style="left:1178.60px;top:261.20px;" width="19.20" height="19.20" viewBox="0 0 9.6 9.6"><clipPath id="cp134"><circle cx="4.8" cy="4.8" r="4.8"/></clipPath><g clip-path="url(#cp134)"><circle cx="4.8" cy="4.8" r="4.8" fill="#a898d4"/><path d="M1.6 10 Q1.8 7.2 4.8 7.2 Q7.8 7.2 8 10 Z" fill="#f2c23c"/><path d="M2.2 6.8 Q1.9 1.6 4.8 1.6 Q7.7 1.6 7.4 6.8 Z" fill="#3a2a26"/><ellipse cx="4.8" cy="4.6" rx="1.8" ry="2.2" fill="#e9b48a"/><path d="M3 3.6 Q4.8 1.6 6.6 3.6 Q4.8 2.9 3 3.6 Z" fill="#3a2a26"/></g></svg>
<div class="t" style="left:1203.20px;top:264.93px;font-size:10.70px;color:#333;">Michele Ronaldo</div>
<div class="t" style="left:899.60px;top:298.98px;font-size:10.60px;color:#333;">07:AM</div>
<div class="t" style="left:959.40px;top:298.98px;font-size:10.60px;color:#333;">General</div>
<div class="t" style="left:1052.00px;top:298.98px;font-size:10.60px;color:#333;">Hewlett packard</div>
<svg class="s" style="left:1178.60px;top:297.00px;" width="19.20" height="19.20" viewBox="0 0 9.6 9.6"><clipPath id="cp152"><circle cx="4.8" cy="4.8" r="4.8"/></clipPath><g clip-path="url(#cp152)"><circle cx="4.8" cy="4.8" r="4.8" fill="#f08ea2"/><path d="M1.6 10 Q1.8 7.2 4.8 7.2 Q7.8 7.2 8 10 Z" fill="#8a6ad0"/><path d="M2.2 6.8 Q1.9 1.6 4.8 1.6 Q7.7 1.6 7.4 6.8 Z" fill="#b2303c"/><ellipse cx="4.8" cy="4.6" rx="1.8" ry="2.2" fill="#f3c2a8"/><path d="M3 3.6 Q4.8 1.6 6.6 3.6 Q4.8 2.9 3 3.6 Z" fill="#b2303c"/></g></svg>
<div class="t" style="left:1203.20px;top:300.73px;font-size:10.70px;color:#333;">Naomi watson</div>
<div class="t" style="left:899.60px;top:335.18px;font-size:10.60px;color:#333;">03:AM</div>
<div class="t" style="left:959.40px;top:335.18px;font-size:10.60px;color:#333;">Cleaning</div>
<div class="t" style="left:1052.00px;top:335.18px;font-size:10.60px;color:#333;">Microsoft</div>
<svg class="s" style="left:1178.60px;top:333.20px;" width="19.20" height="19.20" viewBox="0 0 9.6 9.6"><clipPath id="cp170"><circle cx="4.8" cy="4.8" r="4.8"/></clipPath><g clip-path="url(#cp170)"><circle cx="4.8" cy="4.8" r="4.8" fill="#d09a66"/><path d="M1.6 10 Q1.8 7.2 4.8 7.2 Q7.8 7.2 8 10 Z" fill="#8fd0ee"/><path d="M2.2 6.8 Q1.9 1.6 4.8 1.6 Q7.7 1.6 7.4 6.8 Z" fill="#3a2a22"/><ellipse cx="4.8" cy="4.6" rx="1.8" ry="2.2" fill="#d9a47c"/><path d="M3 3.6 Q4.8 1.6 6.6 3.6 Q4.8 2.9 3 3.6 Z" fill="#3a2a22"/></g></svg>
<div class="t" style="left:1203.20px;top:336.93px;font-size:10.70px;color:#333;">Dane Petty</div>
<div class="r" style="left:200.00px;top:389.60px;width:564.20px;height:346.80px;background:#fff;border-radius:16.00px;"></div>
<div class="t" style="left:214.40px;top:403.50px;font-size:14.52px;color:#2b2b2b;font-weight:700;">Transition History</div>
<div class="t" style="left:594.00px;top:408.25px;font-size:10.10px;color:#333;">Search:</div>
<div class="r" style="left:637.00px;top:401.40px;width:106.60px;height:23.60px;background:#fff;border-radius:4.00px;border:1.20px solid #e9e7e4;box-sizing:border-box;"></div>
<div class="t" style="left:221.40px;top:440.08px;font-size:10.80px;color:#a3a3a3;">Item Name</div>
<div class="t" style="left:389.40px;top:440.18px;font-size:10.60px;color:#a3a3a3;">Invoice No.</div>
<div class="t" style="left:468.20px;top:440.08px;font-size:10.80px;color:#a3a3a3;">Credit/Debit</div>
<div class="t" style="left:559.80px;top:440.08px;font-size:10.80px;color:#a3a3a3;">Date/Time</div>
<div class="t" style="left:690.40px;top:440.08px;font-size:10.80px;color:#a3a3a3;transform:translateX(-50%);">Status</div>
<div class="r" style="left:213.40px;top:462.60px;width:536.20px;height:1.00px;background:#efedea;border-radius:0.00px;"></div>
<svg class="s" style="left:221.80px;top:470.80px;" width="24.80" height="24.80" viewBox="0 0 12.4 12.4"><circle cx="6.2" cy="6.2" r="5.9" fill="#f7f6f4" stroke="#eeecea" stroke-width="0.5"/></svg>
<svg class="s" style="left:227.40px;top:476.20px;" width="14.00" height="14.00" viewBox="0 0 7 7"><rect x="1" y="2" width="5" height="4" rx="0.6" stroke="#333" stroke-width="0.6" fill="none" stroke-linejoin="round" stroke-linecap="round"/><path d="M2.3 0.8 L3.5 2 L4.7 0.8 M1 3.2 L6 3.2" stroke="#333" stroke-width="0.6" fill="none" stroke-linejoin="round" stroke-linecap="round"/></svg>
<div class="t" style="left:258.60px;top:469.98px;font-size:10.60px;color:#2e2e2e;">Samsung TV</div>
<div class="t" style="left:258.60px;top:482.78px;font-size:10.60px;color:#a8a8a8;">Item Sold</div>
<div class="t" style="left:389.40px;top:472.88px;font-size:10.80px;color:#333;">#pa0101</div>
<div class="t" style="left:468.20px;top:472.88px;font-size:10.80px;color:#3fa665;">+ $3460</div>
<div class="t" style="left:559.80px;top:469.49px;font-size:10.40px;color:#333;">Jan 25</div>
<div class="t" style="left:559.80px;top:481.98px;font-size:10.60px;color:#a8a8a8;">08:35:65</div>
<div class="r" style="left:659.80px;top:470.80px;width:81.60px;height:26.80px;background:#e7f5eb;border-radius:5.00px;"></div>
<div class="t" style="left:700.60px;top:478.48px;font-size:10.80px;color:#44ab68;transform:translateX(-50%);">Completed</div>
<svg class="s" style="left:221.80px;top:514.20px;" width="24.80" height="24.80" viewBox="0 0 12.4 12.4"><circle cx="6.2" cy="6.2" r="5.9" fill="#f7f6f4" stroke="#eeecea" stroke-width="0.5"/></svg>
<svg class="s" style="left:227.40px;top:519.60px;" width="14.00" height="14.00" viewBox="0 0 7 7"><path d="M1 5.8 L1 1.5 L6 1.5 L6 5.8 M1 4 L6 4 M2 4 L2 2.8 L5 2.8 L5 4" stroke="#333" stroke-width="0.6" fill="none" stroke-linejoin="round" stroke-linecap="round"/></svg>
<div class="t" style="left:258.60px;top:513.38px;font-size:10.60px;color:#2e2e2e;">Spring Bed</div>
<div class="t" style="left:258.60px;top:526.18px;font-size:10.60px;color:#a8a8a8;">Bought item</div>
<div class="t" style="left:389.40px;top:516.28px;font-size:10.80px;color:#333;">#rf304f</div>
<div class="t" style="left:468.20px;top:516.28px;font-size:10.80px;color:#e2574c;">- $910</div>
<div class="t" style="left:559.80px;top:512.89px;font-size:10.40px;color:#333;">Feb 20</div>
<div class="t" style="left:559.80px;top:525.38px;font-size:10.60px;color:#a8a8a8;">12:35:00</div>
<div class="r" style="left:659.80px;top:514.20px;width:81.60px;height:26.80px;background:#e7f5eb;border-radius:5.00px;"></div>
<div class="t" style="left:700.60px;top:521.88px;font-size:10.80px;color:#44ab68;transform:translateX(-50%);">Completed</div>
<svg class="s" style="left:221.80px;top:557.60px;" width="24.80" height="24.80" viewBox="0 0 12.4 12.4"><circle cx="6.2" cy="6.2" r="5.9" fill="#f7f6f4" stroke="#eeecea" stroke-width="0.5"/></svg>
<svg class="s" style="left:227.40px;top:563.00px;" width="14.00" height="14.00" viewBox="0 0 7 7"><path d="M2.5 0.8 L2.5 2 L1.3 5.8 L5.7 5.8 L4.5 2 L4.5 0.8 M2.5 2 Q3.5 2.8 4.5 2" stroke="#333" stroke-width="0.6" fill="none" stroke-linejoin="round" stroke-linecap="round"/></svg>
<div class="t" style="left:258.60px;top:556.78px;font-size:10.60px;color:#2e2e2e;">Long Dress</div>
<div class="t" style="left:258.60px;top:569.58px;font-size:10.60px;color:#a8a8a8;">Bought item</div>
<div class="t" style="left:389.40px;top:559.68px;font-size:10.80px;color:#333;">#dnj480</div>
<div class="t" style="left:468.20px;top:559.68px;font-size:10.80px;color:#3fa665;">+ $4380</div>
<div class="t" style="left:559.80px;top:556.29px;font-size:10.40px;color:#333;">Oct 25</div>
<div class="t" style="left:559.80px;top:568.78px;font-size:10.60px;color:#a8a8a8;">04:39:08</div>
<div class="r" style="left:659.80px;top:557.60px;width:81.60px;height:26.80px;background:#fdf2e3;border-radius:5.00px;"></div>
<div class="t" style="left:700.60px;top:565.28px;font-size:10.80px;color:#f0a03c;transform:translateX(-50%);">Pending</div>
<svg class="s" style="left:221.80px;top:601.00px;" width="24.80" height="24.80" viewBox="0 0 12.4 12.4"><circle cx="6.2" cy="6.2" r="5.9" fill="#f7f6f4" stroke="#eeecea" stroke-width="0.5"/></svg>
<svg class="s" style="left:227.40px;top:606.40px;" width="14.00" height="14.00" viewBox="0 0 7 7"><path d="M2.3 4.5 Q1 3.7 1 2.4 Q1 0.6 3.5 0.6 Q6 0.6 6 2.4 Q6 3.7 4.7 4.5 L4.7 5.3 L2.3 5.3 Z M2.7 6.2 L4.3 6.2" stroke="#333" stroke-width="0.6" fill="none" stroke-linejoin="round" stroke-linecap="round"/></svg>
<div class="t" style="left:258.60px;top:600.18px;font-size:10.60px;color:#2e2e2e;">Phillip Lightbulb</div>
<div class="t" style="left:258.60px;top:612.98px;font-size:10.60px;color:#a8a8a8;">Item Sold</div>
<div class="t" style="left:389.40px;top:603.08px;font-size:10.80px;color:#333;">#g189d0</div>
<div class="t" style="left:468.20px;top:603.08px;font-size:10.80px;color:#3fa665;">+ $246</div>
<div class="t" style="left:559.80px;top:599.69px;font-size:10.40px;color:#333;">Dec 25</div>
<div class="t" style="left:559.80px;top:612.18px;font-size:10.60px;color:#a8a8a8;">08:35:65</div>
<div class="r" style="left:659.80px;top:601.00px;width:81.60px;height:26.80px;background:#fde9e7;border-radius:5.00px;"></div>
<div class="t" style="left:700.60px;top:608.68px;font-size:10.80px;color:#e2574c;transform:translateX(-50%);">Canceled</div>
<svg class="s" style="left:221.80px;top:644.40px;" width="24.80" height="24.80" viewBox="0 0 12.4 12.4"><circle cx="6.2" cy="6.2" r="5.9" fill="#f7f6f4" stroke="#eeecea" stroke-width="0.5"/></svg>
<svg class="s" style="left:227.40px;top:649.80px;" width="14.00" height="14.00" viewBox="0 0 7 7"><path d="M1 5.5 L1 3 Q1 2.2 1.8 2.2 L5.2 2.2 Q6 2.2 6 3 L6 5.5 Z M1.5 5.5 L1.5 6.3 M5.5 5.5 L5.5 6.3 M1 3.8 L6 3.8" stroke="#333" stroke-width="0.6" fill="none" stroke-linejoin="round" stroke-linecap="round"/></svg>
<div class="t" style="left:258.60px;top:643.58px;font-size:10.60px;color:#2e2e2e;">Sofa Hauga</div>
<div class="t" style="left:258.60px;top:656.38px;font-size:10.60px;color:#a8a8a8;">Item Sold</div>
<div class="t" style="left:389.40px;top:646.48px;font-size:10.80px;color:#333;">#31d8fs</div>
<div class="t" style="left:468.20px;top:646.48px;font-size:10.80px;color:#e2574c;">- $220</div>
<div class="t" style="left:559.80px;top:643.09px;font-size:10.40px;color:#333;">Jan 25</div>
<div class="t" style="left:559.80px;top:655.58px;font-size:10.60px;color:#a8a8a8;">10:20:87</div>
<div class="r" style="left:659.80px;top:644.40px;width:81.60px;height:26.80px;background:#e7f5eb;border-radius:5.00px;"></div>
<div class="t" style="left:700.60px;top:652.08px;font-size:10.80px;color:#44ab68;transform:translateX(-50%);">Completed</div>
<svg class="s" style="left:221.80px;top:687.80px;" width="24.80" height="24.80" viewBox="0 0 12.4 12.4"><circle cx="6.2" cy="6.2" r="5.9" fill="#f7f6f4" stroke="#eeecea" stroke-width="0.5"/></svg>
<svg class="s" style="left:227.40px;top:693.20px;" width="14.00" height="14.00" viewBox="0 0 7 7"><rect x="0.8" y="1" width="5.4" height="3.8" rx="0.6" stroke="#333" stroke-width="0.6" fill="none" stroke-linejoin="round" stroke-linecap="round"/><path d="M3.5 4.8 L3.5 6 M2.2 6 L4.8 6" stroke="#333" stroke-width="0.6" fill="none" stroke-linejoin="round" stroke-linecap="round"/></svg>
<div class="t" style="left:258.60px;top:686.98px;font-size:10.60px;color:#2e2e2e;">Apple iMac 19"</div>
<div class="t" style="left:258.60px;top:699.78px;font-size:10.60px;color:#a8a8a8;">Item Sold</div>
<div class="t" style="left:389.40px;top:689.88px;font-size:10.80px;color:#333;">#g5384h</div>
<div class="t" style="left:468.20px;top:689.88px;font-size:10.80px;color:#3fa665;">+ $983</div>
<div class="t" style="left:559.80px;top:686.49px;font-size:10.40px;color:#333;">Feb 05</div>
<div class="t" style="left:559.80px;top:698.98px;font-size:10.60px;color:#a8a8a8;">10:49:50</div>
<div class="r" style="left:659.80px;top:687.80px;width:81.60px;height:26.80px;background:#e7f5eb;border-radius:5.00px;"></div>
<div class="t" style="left:700.60px;top:695.48px;font-size:10.80px;color:#44ab68;transform:translateX(-50%);">Completed</div>
<div class="r" style="left:781.60px;top:389.60px;width:273.60px;height:346.80px;background:#fff;border-radius:16.00px;"></div>
<div class="t" style="left:796.40px;top:406.82px;font-size:14.68px;color:#2b2b2b;font-weight:700;">Audit log</div>
<div class="r" style="left:1012.40px;top:403.60px;width:28.80px;height:21.20px;background:#f8f7f5;border-radius:5.00px;border:1.00px solid #ebe9e6;box-sizing:border-box;"></div>
<div class="t" style="left:1026.80px;top:407.90px;font-size:10.00px;color:#333;font-weight:700;transform:translateX(-50%);">···</div>
<div class="r" style="left:805.60px;top:479.00px;width:2.00px;height:20.20px;background:#e9e7e4;border-radius:0.00px;"></div>
<svg class="s" style="left:796.00px;top:453.90px;" width="21.40" height="21.40" viewBox="0 0 10.7 10.7"><circle cx="5.35" cy="5.35" r="5.35" fill="#3fb35e"/><circle cx="5.35" cy="5.35" r="3.5" fill="none" stroke="#fff" stroke-opacity="0.45" stroke-width="0.6"/><path d="M3.2 5.5 L4.8 7 L7.6 4.2" stroke="#fff" stroke-width="1" fill="none" stroke-linecap="round"/></svg>
<div class="t" style="left:823.00px;top:450.93px;font-size:10.70px;color:#2e2e2e;">Route P204_salesforec created</div>
<div class="t" style="left:823.00px;top:463.73px;font-size:10.70px;color:#a8a8a8;">Andre Sluczka</div>
<div class="r" style="left:992.00px;top:452.40px;width:49.20px;height:24.60px;background:#f8f7f5;border-radius:5.00px;border:1.00px solid #ebe9e6;box-sizing:border-box;"></div>
<div class="t" style="left:1016.60px;top:459.28px;font-size:10.80px;color:#333;transform:translateX(-50%);">2 hours</div>
<div class="r" style="left:805.60px;top:527.90px;width:2.00px;height:20.20px;background:#e9e7e4;border-radius:0.00px;"></div>
<svg class="s" style="left:796.00px;top:502.80px;" width="21.40" height="21.40" viewBox="0 0 10.7 10.7"><circle cx="5.35" cy="5.35" r="5.35" fill="#ef9a1c"/><circle cx="5.35" cy="5.35" r="3.5" fill="none" stroke="#fff" stroke-opacity="0.45" stroke-width="0.6"/><path d="M5.35 3 L5.35 6" stroke="#fff" stroke-width="1" stroke-linecap="round"/><circle cx="5.35" cy="7.6" r="0.55" fill="#fff"/></svg>
<div class="t" style="left:823.00px;top:499.83px;font-size:10.70px;color:#2e2e2e;">R304_salesforece undeployed</div>
<div class="t" style="left:823.00px;top:512.63px;font-size:10.70px;color:#a8a8a8;">Fobian Beliza</div>
<div class="r" style="left:992.00px;top:501.30px;width:49.20px;height:24.60px;background:#f8f7f5;border-radius:5.00px;border:1.00px solid #ebe9e6;box-sizing:border-box;"></div>
<div class="t" style="left:1016.60px;top:508.18px;font-size:10.80px;color:#333;transform:translateX(-50%);">4 hours</div>
<div class="r" style="left:805.60px;top:576.80px;width:2.00px;height:20.20px;background:#e9e7e4;border-radius:0.00px;"></div>
<svg class="s" style="left:796.00px;top:551.70px;" width="21.40" height="21.40" viewBox="0 0 10.7 10.7"><circle cx="5.35" cy="5.35" r="5.35" fill="#e2574c"/><circle cx="5.35" cy="5.35" r="3.5" fill="none" stroke="#fff" stroke-opacity="0.45" stroke-width="0.6"/><path d="M3.6 3.6 L7.1 7.1 M7.1 3.6 L3.6 7.1" stroke="#fff" stroke-width="1" stroke-linecap="round"/></svg>
<div class="t" style="left:823.00px;top:548.73px;font-size:10.70px;color:#2e2e2e;">R304_salesforece failed...</div>
<div class="t" style="left:823.00px;top:561.53px;font-size:10.70px;color:#a8a8a8;">Michael Ganatra</div>
<div class="r" style="left:992.00px;top:550.20px;width:49.20px;height:24.60px;background:#f8f7f5;border-radius:5.00px;border:1.00px solid #ebe9e6;box-sizing:border-box;"></div>
<div class="t" style="left:1016.60px;top:557.08px;font-size:10.80px;color:#333;transform:translateX(-50%);">10 Jun</div>
<div class="r" style="left:805.60px;top:625.70px;width:2.00px;height:20.20px;background:#e9e7e4;border-radius:0.00px;"></div>
<svg class="s" style="left:796.00px;top:600.60px;" width="21.40" height="21.40" viewBox="0 0 10.7 10.7"><circle cx="5.35" cy="5.35" r="5.35" fill="#3fb35e"/><circle cx="5.35" cy="5.35" r="3.5" fill="none" stroke="#fff" stroke-opacity="0.45" stroke-width="0.6"/><path d="M3.2 5.5 L4.8 7 L7.6 4.2" stroke="#fff" stroke-width="1" fill="none" stroke-linecap="round"/></svg>
<div class="t" style="left:823.00px;top:597.63px;font-size:10.70px;color:#2e2e2e;">New environment DEV created</div>
<div class="t" style="left:823.00px;top:610.43px;font-size:10.70px;color:#a8a8a8;">Wade Warren</div>
<div class="r" style="left:992.00px;top:599.10px;width:49.20px;height:24.60px;background:#f8f7f5;border-radius:5.00px;border:1.00px solid #ebe9e6;box-sizing:border-box;"></div>
<div class="t" style="left:1016.60px;top:605.98px;font-size:10.80px;color:#333;transform:translateX(-50%);">22 Jun</div>
<div class="r" style="left:805.60px;top:674.60px;width:2.00px;height:20.20px;background:#e9e7e4;border-radius:0.00px;"></div>
<svg class="s" style="left:796.00px;top:649.50px;" width="21.40" height="21.40" viewBox="0 0 10.7 10.7"><circle cx="5.35" cy="5.35" r="5.35" fill="#3fb35e"/><circle cx="5.35" cy="5.35" r="3.5" fill="none" stroke="#fff" stroke-opacity="0.45" stroke-width="0.6"/><path d="M3.2 5.5 L4.8 7 L7.6 4.2" stroke="#fff" stroke-width="1" fill="none" stroke-linecap="round"/></svg>
<div class="t" style="left:823.00px;top:646.53px;font-size:10.70px;color:#2e2e2e;">Project salesforce created</div>
<div class="t" style="left:823.00px;top:659.33px;font-size:10.70px;color:#a8a8a8;">Bessie Cooper</div>
<div class="r" style="left:992.00px;top:648.00px;width:49.20px;height:24.60px;background:#f8f7f5;border-radius:5.00px;border:1.00px solid #ebe9e6;box-sizing:border-box;"></div>
<div class="t" style="left:1016.60px;top:654.88px;font-size:10.80px;color:#333;transform:translateX(-50%);">10 july</div>
<svg class="s" style="left:796.00px;top:698.40px;" width="21.40" height="21.40" viewBox="0 0 10.7 10.7"><circle cx="5.35" cy="5.35" r="5.35" fill="#ef9a1c"/><circle cx="5.35" cy="5.35" r="3.5" fill="none" stroke="#fff" stroke-opacity="0.45" stroke-width="0.6"/><path d="M5.35 3 L5.35 6" stroke="#fff" stroke-width="1" stroke-linecap="round"/><circle cx="5.35" cy="7.6" r="0.55" fill="#fff"/></svg>
<div class="t" style="left:823.00px;top:695.43px;font-size:10.70px;color:#2e2e2e;">G202_Salesforce undeployed</div>
<div class="t" style="left:823.00px;top:708.23px;font-size:10.70px;color:#a8a8a8;">Andre Sluczka</div>
<div class="r" style="left:992.00px;top:696.90px;width:49.20px;height:24.60px;background:#f8f7f5;border-radius:5.00px;border:1.00px solid #ebe9e6;box-sizing:border-box;"></div>
<div class="t" style="left:1016.60px;top:703.78px;font-size:10.80px;color:#333;transform:translateX(-50%);">22 Jun</div>
<div class="r" style="left:1072.40px;top:389.60px;width:274.60px;height:346.80px;background:#fff;border-radius:16.00px;"></div>
<div class="t" style="left:1086.60px;top:405.72px;font-size:14.86px;color:#2b2b2b;font-weight:700;">Total Investment</div>
<div class="r" style="left:1302.00px;top:403.60px;width:30.80px;height:21.80px;background:#f8f7f5;border-radius:5.00px;border:1.00px solid #ebe9e6;box-sizing:border-box;"></div>
<div class="t" style="left:1317.40px;top:408.70px;font-size:10.00px;color:#333;font-weight:700;transform:translateX(-50%);">···</div>
<svg class="s" style="left:1098.20px;top:454.80px;" width="224.00" height="224.00" viewBox="0 0 112 112"><path d="M56.00 8.00 A48.0 48.0 0 1 1 8.00 56.00" stroke="#f5f4f2" stroke-width="6.6" fill="none"/><path d="M56.00 8.00 A48.0 48.0 0 1 1 36.48 99.85" stroke="#4a9d93" stroke-width="6.6" fill="none"/><path d="M56.00 16.40 A39.6 39.6 0 1 1 16.40 56.00" stroke="#f5f4f2" stroke-width="6.6" fill="none"/><path d="M56.00 16.40 A39.6 39.6 0 0 1 56.00 95.60" stroke="#f3a276" stroke-width="6.6" fill="none"/><path d="M56.00 24.70 A31.3 31.3 0 1 1 24.70 56.00" stroke="#f5f4f2" stroke-width="6.6" fill="none"/><path d="M56.00 24.70 A31.3 31.3 0 0 1 64.63 86.09" stroke="#eba226" stroke-width="6.6" fill="none"/><path d="M56.00 32.80 A23.2 23.2 0 1 1 32.80 56.00" stroke="#f5f4f2" stroke-width="6.6" fill="none"/><path d="M56.00 32.80 A23.2 23.2 0 1 1 35.63 67.11" stroke="#e8674b" stroke-width="6.6" fill="none"/></svg>
<div class="t" style="left:1210.20px;top:556.36px;font-size:11.40px;color:#2e2e2e;font-weight:700;transform:translateX(-50%);">Total</div>
<div class="t" style="left:1210.20px;top:578.95px;font-size:11.80px;color:#555;transform:translateX(-50%);">249</div>
<div class="t" style="left:1138.00px;top:695.88px;font-size:10.80px;color:#a8a8a8;transform:translateX(-50%);">Total</div>
<div class="t" style="left:1138.00px;top:708.86px;font-size:11.20px;color:#333;transform:translateX(-50%);">$45,9760</div>
<div class="t" style="left:1213.60px;top:695.88px;font-size:10.80px;color:#a8a8a8;transform:translateX(-50%);">Monthly</div>
<div class="t" style="left:1213.60px;top:708.86px;font-size:11.20px;color:#333;transform:translateX(-50%);">$12,263</div>
<div class="t" style="left:1285.60px;top:695.88px;font-size:10.80px;color:#a8a8a8;transform:translateX(-50%);">Daily</div>
<div class="t" style="left:1285.60px;top:708.86px;font-size:11.20px;color:#333;transform:translateX(-50%);">$32600</div>
<div class="r" style="left:1177.60px;top:696.00px;width:1.00px;height:26.00px;background:#ebe9e6;border-radius:0.00px;"></div>
<div class="r" style="left:1250.40px;top:696.00px;width:1.00px;height:26.00px;background:#ebe9e6;border-radius:0.00px;"></div>
<div class="r" style="left:200.00px;top:758.00px;width:273.40px;height:313.00px;background:#fff;border-radius:16.00px;"></div>
<div class="t" style="left:213.80px;top:775.39px;font-size:14.74px;color:#2b2b2b;font-weight:700;">Latest Activity</div>
<div class="r" style="left:428.40px;top:772.00px;width:31.60px;height:22.80px;background:#f8f7f5;border-radius:5.00px;border:1.00px solid #ebe9e6;box-sizing:border-box;"></div>
<div class="t" style="left:444.20px;top:777.50px;font-size:10.00px;color:#333;font-weight:700;transform:translateX(-50%);">···</div>
<svg class="s" style="left:213.80px;top:814.60px;" width="23.60" height="23.60" viewBox="0 0 11.8 11.8"><circle cx="5.9" cy="5.9" r="5.9" fill="#e1efed"/><path d="M5.9 2.8 L8.6 4.2 L8.6 7.4 L5.9 8.9 L3.2 7.4 L3.2 4.2 Z M3.2 4.2 L5.9 5.7 L8.6 4.2 M5.9 5.7 L5.9 8.9" stroke="#308e87" stroke-width="0.75" fill="none" stroke-linecap="round" stroke-linejoin="round"/></svg>
<div class="t" style="left:243.80px;top:814.12px;font-size:11.10px;color:#2e2e2e;">Added new repository</div>
<div class="t" style="left:243.80px;top:827.17px;font-size:11.00px;color:#a8a8a8;">Fabpot/symfony-docker</div>
<div class="r" style="left:408.80px;top:816.40px;width:51.20px;height:20.00px;background:#f8f7f5;border-radius:5.00px;border:1.00px solid #ebe9e6;box-sizing:border-box;"></div>
<div class="t" style="left:434.40px;top:820.93px;font-size:10.70px;color:#333;transform:translateX(-50%);">2 hours</div>
<svg class="s" style="left:213.80px;top:850.90px;" width="23.60" height="23.60" viewBox="0 0 11.8 11.8"><circle cx="5.9" cy="5.9" r="5.9" fill="#fdf1dc"/><text x="5.9" y="8.3" font-size="6.5" font-weight="700" text-anchor="middle" fill="#efa325" font-family="Liberation Sans">$</text></svg>
<div class="t" style="left:243.80px;top:850.42px;font-size:11.10px;color:#2e2e2e;">Added new work</div>
<div class="t" style="left:243.80px;top:863.47px;font-size:11.00px;color:#a8a8a8;">Private Contributions</div>
<div class="r" style="left:408.80px;top:852.70px;width:51.20px;height:20.00px;background:#f8f7f5;border-radius:5.00px;border:1.00px solid #ebe9e6;box-sizing:border-box;"></div>
<div class="t" style="left:434.40px;top:857.23px;font-size:10.70px;color:#333;transform:translateX(-50%);">4 hours</div>
<svg class="s" style="left:213.80px;top:887.20px;" width="23.60" height="23.60" viewBox="0 0 11.8 11.8"><circle cx="5.9" cy="5.9" r="5.9" fill="#fde7e4"/><circle cx="5.9" cy="5.9" r="3" stroke="#e2574c" stroke-width="0.75" fill="none" stroke-linecap="round" stroke-linejoin="round"/><circle cx="5.9" cy="5.9" r="1.2" stroke="#e2574c" stroke-width="0.75" fill="none" stroke-linecap="round" stroke-linejoin="round"/><path d="M5.9 5.9 L8.5 3.3" stroke="#e2574c" stroke-width="0.75" fill="none" stroke-linecap="round" stroke-linejoin="round"/></svg>
<div class="t" style="left:243.80px;top:886.72px;font-size:11.10px;color:#2e2e2e;">Review</div>
<div class="t" style="left:243.80px;top:899.77px;font-size:11.00px;color:#a8a8a8;">Reviewed repositories</div>
<div class="r" style="left:408.80px;top:889.00px;width:51.20px;height:20.00px;background:#f8f7f5;border-radius:5.00px;border:1.00px solid #ebe9e6;box-sizing:border-box;"></div>
<div class="t" style="left:434.40px;top:893.53px;font-size:10.70px;color:#333;transform:translateX(-50%);">10 Jan</div>
<svg class="s" style="left:213.80px;top:923.50px;" width="23.60" height="23.60" viewBox="0 0 11.8 11.8"><circle cx="5.9" cy="5.9" r="5.9" fill="#e1efed"/><circle cx="5.9" cy="5.9" r="3" stroke="#308e87" stroke-width="0.75" fill="none" stroke-linecap="round" stroke-linejoin="round"/><path d="M5.9 2.9 L5.9 5.9 L8.6 7.2" stroke="#308e87" stroke-width="0.75" fill="none" stroke-linecap="round" stroke-linejoin="round"/></svg>
<div class="t" style="left:243.80px;top:923.02px;font-size:11.10px;color:#2e2e2e;">Upload documents</div>
<div class="t" style="left:243.80px;top:936.07px;font-size:11.00px;color:#a8a8a8;">Development Startup</div>
<div class="r" style="left:408.80px;top:925.30px;width:51.20px;height:20.00px;background:#f8f7f5;border-radius:5.00px;border:1.00px solid #ebe9e6;box-sizing:border-box;"></div>
<div class="t" style="left:434.40px;top:929.83px;font-size:10.70px;color:#333;transform:translateX(-50%);">22 Jan</div>
<svg class="s" style="left:213.80px;top:959.80px;" width="23.60" height="23.60" viewBox="0 0 11.8 11.8"><circle cx="5.9" cy="5.9" r="5.9" fill="#fdf1dc"/><circle cx="5.9" cy="5.9" r="3" stroke="#efa325" stroke-width="0.75" fill="none" stroke-linecap="round" stroke-linejoin="round"/><path d="M4.2 5.2 L5.9 6.4 L7.6 5.2" stroke="#efa325" stroke-width="0.75" fill="none" stroke-linecap="round" stroke-linejoin="round"/></svg>
<div class="t" style="left:243.80px;top:959.32px;font-size:11.10px;color:#2e2e2e;">Opened issue</div>
<div class="t" style="left:243.80px;top:972.37px;font-size:11.00px;color:#a8a8a8;">Private Contributions</div>
<div class="r" style="left:408.80px;top:961.60px;width:51.20px;height:20.00px;background:#f8f7f5;border-radius:5.00px;border:1.00px solid #ebe9e6;box-sizing:border-box;"></div>
<div class="t" style="left:434.40px;top:966.13px;font-size:10.70px;color:#333;transform:translateX(-50%);">10 july</div>
<svg class="s" style="left:213.80px;top:996.10px;" width="23.60" height="23.60" viewBox="0 0 11.8 11.8"><circle cx="5.9" cy="5.9" r="5.9" fill="#fde7e4"/><circle cx="5.9" cy="4.4" r="1.5" stroke="#e2574c" stroke-width="0.75" fill="none" stroke-linecap="round" stroke-linejoin="round"/><path d="M3.4 8.8 Q3.4 6.5 5.9 6.5 Q8.4 6.5 8.4 8.8" stroke="#e2574c" stroke-width="0.75" fill="none" stroke-linecap="round" stroke-linejoin="round"/></svg>
<div class="t" style="left:243.80px;top:995.62px;font-size:11.10px;color:#2e2e2e;">Customer added by @jhon</div>
<div class="t" style="left:243.80px;top:1008.67px;font-size:11.00px;color:#a8a8a8;">Fabpot/symfony-docker</div>
<div class="r" style="left:408.80px;top:997.90px;width:51.20px;height:20.00px;background:#f8f7f5;border-radius:5.00px;border:1.00px solid #ebe9e6;box-sizing:border-box;"></div>
<div class="t" style="left:434.40px;top:1002.43px;font-size:10.70px;color:#333;transform:translateX(-50%);">26 Jan</div>
<svg class="s" style="left:213.80px;top:1032.40px;" width="23.60" height="23.60" viewBox="0 0 11.8 11.8"><circle cx="5.9" cy="5.9" r="5.9" fill="#e1efed"/><rect x="3.2" y="4.4" width="5.4" height="4.2" rx="0.8" stroke="#308e87" stroke-width="0.75" fill="none" stroke-linecap="round" stroke-linejoin="round"/><path d="M4.7 4.4 L4.7 3.3 L7.1 3.3 L7.1 4.4" stroke="#308e87" stroke-width="0.75" fill="none" stroke-linecap="round" stroke-linejoin="round"/></svg>
<div class="t" style="left:243.80px;top:1031.92px;font-size:11.10px;color:#2e2e2e;">Added new work</div>
<div class="t" style="left:243.80px;top:1044.97px;font-size:11.00px;color:#a8a8a8;">Contributions repositories</div>
<div class="r" style="left:408.80px;top:1034.20px;width:51.20px;height:20.00px;background:#f8f7f5;border-radius:5.00px;border:1.00px solid #ebe9e6;box-sizing:border-box;"></div>
<div class="t" style="left:434.40px;top:1038.73px;font-size:10.70px;color:#333;transform:translateX(-50%);">22 Jan</div>
<div class="r" style="left:490.00px;top:758.00px;width:565.20px;height:313.00px;background:#fff;border-radius:16.00px;"></div>
<div class="t" style="left:504.20px;top:776.85px;font-size:14.62px;color:#2b2b2b;font-weight:700;">Monthly Revenue Growth</div>
<div class="r" style="left:899.00px;top:773.40px;width:142.60px;height:23.20px;background:#f8f7f5;border-radius:5.00px;border:1.00px solid #ebe9e6;box-sizing:border-box;"></div>
<div class="r" style="left:992.40px;top:773.40px;width:49.20px;height:23.20px;background:#308e87;border-radius:5.00px;"></div>
<div class="t" style="left:920.60px;top:779.58px;font-size:10.60px;color:#333;transform:translateX(-50%);">Yearly</div>
<div class="t" style="left:967.20px;top:779.48px;font-size:10.80px;color:#333;transform:translateX(-50%);">Monthly</div>
<div class="t" style="left:1017.00px;top:779.69px;font-size:10.40px;color:#fff;font-weight:700;transform:translateX(-50%);">Weekly</div>
<svg class="s" style="left:490.00px;top:758.00px;" width="565.20" height="313.00" viewBox="0 0 282.6 156.5"><line x1="27.399999999999977" y1="136.80" x2="268" y2="136.80" stroke="#f2f0ee" stroke-width="0.5"/><line x1="27.399999999999977" y1="120.20" x2="268" y2="120.20" stroke="#f2f0ee" stroke-width="0.5"/><line x1="27.399999999999977" y1="103.60" x2="268" y2="103.60" stroke="#f2f0ee" stroke-width="0.5"/><line x1="27.399999999999977" y1="87.00" x2="268" y2="87.00" stroke="#f2f0ee" stroke-width="0.5"/><line x1="27.399999999999977" y1="70.40" x2="268" y2="70.40" stroke="#f2f0ee" stroke-width="0.5"/><line x1="27.399999999999977" y1="53.80" x2="268" y2="53.80" stroke="#f2f0ee" stroke-width="0.5"/><line x1="27.399999999999977" y1="37.20" x2="268" y2="37.20" stroke="#f2f0ee" stroke-width="0.5"/><defs><linearGradient id="ga" x1="0" y1="0" x2="0" y2="1"><stop offset="0" stop-color="#308e87" stop-opacity="0.5"/><stop offset="1" stop-color="#308e87" stop-opacity="0.04"/></linearGradient></defs><path d="M27.40 136.80 L27.40 128.50 L49.19 87.00 L70.98 128.50 L92.77 118.54 L114.56 118.54 L136.35 87.00 L158.14 103.60 L179.93 103.60 L201.72 53.80 L223.51 118.54 L245.30 128.50 L267.09 118.54 L267.09 136.80 Z" fill="url(#ga)"/><path d="M27.40 128.50 L49.19 87.00 L70.98 128.50 L92.77 118.54 L114.56 118.54 L136.35 87.00 L158.14 103.60 L179.93 103.60 L201.72 53.80 L223.51 118.54 L245.30 128.50 L267.09 118.54" stroke="#308e87" stroke-width="1.3" fill="none" stroke-linejoin="round"/><circle cx="27.40" cy="128.50" r="2.1" fill="#fff" stroke="#308e87" stroke-width="1.0"/><circle cx="49.19" cy="87.00" r="2.1" fill="#fff" stroke="#308e87" stroke-width="1.0"/><circle cx="70.98" cy="128.50" r="2.1" fill="#fff" stroke="#308e87" stroke-width="1.0"/><circle cx="92.77" cy="118.54" r="2.1" fill="#fff" stroke="#308e87" stroke-width="1.0"/><circle cx="114.56" cy="118.54" r="2.1" fill="#fff" stroke="#308e87" stroke-width="1.0"/><circle cx="136.35" cy="87.00" r="2.1" fill="#fff" stroke="#308e87" stroke-width="1.0"/><circle cx="158.14" cy="103.60" r="2.1" fill="#fff" stroke="#308e87" stroke-width="1.0"/><circle cx="179.93" cy="103.60" r="2.1" fill="#fff" stroke="#308e87" stroke-width="1.0"/><circle cx="201.72" cy="53.80" r="2.1" fill="#fff" stroke="#308e87" stroke-width="1.0"/><circle cx="223.51" cy="118.54" r="2.1" fill="#fff" stroke="#308e87" stroke-width="1.0"/><circle cx="245.30" cy="128.50" r="2.1" fill="#fff" stroke="#308e87" stroke-width="1.0"/><circle cx="267.09" cy="118.54" r="2.1" fill="#fff" stroke="#308e87" stroke-width="1.0"/></svg>
<div class="t" style="left:516.20px;top:1026.30px;font-size:10.00px;color:#a5a5a5;">300k</div>
<div class="t" style="left:516.20px;top:993.10px;font-size:10.00px;color:#a5a5a5;">400k</div>
<div class="t" style="left:516.20px;top:959.90px;font-size:10.00px;color:#a5a5a5;">500k</div>
<div class="t" style="left:516.20px;top:926.70px;font-size:10.00px;color:#a5a5a5;">600k</div>
<div class="t" style="left:516.20px;top:893.50px;font-size:10.00px;color:#a5a5a5;">700k</div>
<div class="t" style="left:516.20px;top:860.30px;font-size:10.00px;color:#a5a5a5;">800k</div>
<div class="t" style="left:516.20px;top:827.10px;font-size:10.00px;color:#a5a5a5;">900k</div>
<div class="t" style="left:544.80px;top:1042.70px;font-size:10.00px;color:#a5a5a5;transform:translateX(-50%);">Jan</div>
<div class="t" style="left:588.38px;top:1042.70px;font-size:10.00px;color:#a5a5a5;transform:translateX(-50%);">Feb</div>
<div class="t" style="left:631.96px;top:1042.70px;font-size:10.00px;color:#a5a5a5;transform:translateX(-50%);">Mar</div>
<div class="t" style="left:675.54px;top:1042.70px;font-size:10.00px;color:#a5a5a5;transform:translateX(-50%);">Apr</div>
<div class="t" style="left:719.12px;top:1042.70px;font-size:10.00px;color:#a5a5a5;transform:translateX(-50%);">May</div>
<div class="t" style="left:762.70px;top:1042.70px;font-size:10.00px;color:#a5a5a5;transform:translateX(-50%);">Jun</div>
<div class="t" style="left:806.28px;top:1042.70px;font-size:10.00px;color:#a5a5a5;transform:translateX(-50%);">Jul</div>
<div class="t" style="left:849.86px;top:1042.70px;font-size:10.00px;color:#a5a5a5;transform:translateX(-50%);">Aug</div>
<div class="t" style="left:893.44px;top:1042.70px;font-size:10.00px;color:#a5a5a5;transform:translateX(-50%);">Sep</div>
<div class="t" style="left:937.02px;top:1042.70px;font-size:10.00px;color:#a5a5a5;transform:translateX(-50%);">Oct</div>
<div class="t" style="left:980.60px;top:1042.70px;font-size:10.00px;color:#a5a5a5;transform:translateX(-50%);">Nov</div>
<div class="t" style="left:1024.18px;top:1042.70px;font-size:10.00px;color:#a5a5a5;transform:translateX(-50%);">Dec</div>
<div class="r" style="left:1072.40px;top:758.00px;width:274.60px;height:313.00px;background:#fff;border-radius:16.00px;"></div>
<div class="t" style="left:1087.40px;top:775.65px;font-size:14.24px;color:#2b2b2b;font-weight:700;">Top Users</div>
<div class="r" style="left:1302.60px;top:772.00px;width:30.60px;height:22.80px;background:#f8f7f5;border-radius:5.00px;border:1.00px solid #ebe9e6;box-sizing:border-box;"></div>
<div class="t" style="left:1317.90px;top:777.50px;font-size:10.00px;color:#333;font-weight:700;transform:translateX(-50%);">···</div>
<svg class="s" style="left:1086.80px;top:805.00px;" width="25.20" height="25.20" viewBox="0 0 12.6 12.6"><circle cx="6.3" cy="6.3" r="6.2" fill="#e2eff0" stroke="#d5e8ea" stroke-width="0.4"/><ellipse cx="6.3" cy="6.6" rx="3.1" ry="3.5" fill="#f2c46b"/><path d="M2.9 6.4 Q2.7 2.4 6.3 2.4 Q9.9 2.4 9.7 6.4 Q8.8 4.4 6.3 4.5 Q3.8 4.4 2.9 6.4 Z" fill="#4a2e1e"/><path d="M3.4 7.6 Q3.8 10.3 6.3 10.3 Q8.8 10.3 9.2 7.6 Q8.5 9.2 6.3 9.2 Q4.1 9.2 3.4 7.6 Z" fill="#4a2e1e" opacity="0.75"/><circle cx="5.1" cy="6.5" r="0.45" fill="#222"/><circle cx="7.5" cy="6.5" r="0.45" fill="#222"/></svg>
<div class="t" style="left:1118.00px;top:805.22px;font-size:10.90px;color:#2e2e2e;">Alice Goodwin</div>
<div class="t" style="left:1118.00px;top:818.09px;font-size:10.40px;color:#a8a8a8;">@Texas</div>
<div class="r" style="left:1206.00px;top:805.60px;width:67.60px;height:24.20px;background:#e7f5eb;border-radius:5.00px;"></div>
<div class="t" style="left:1239.80px;top:812.19px;font-size:10.40px;color:#44ab68;transform:translateX(-50%);">Completed</div>
<div class="t" style="left:1332.20px;top:812.29px;font-size:10.40px;color:#a5a5a5;transform:translateX(-100%);">$250.00</div>
<svg class="s" style="left:1086.80px;top:841.40px;" width="25.20" height="25.20" viewBox="0 0 12.6 12.6"><circle cx="6.3" cy="6.3" r="6.2" fill="#e2eff0" stroke="#d5e8ea" stroke-width="0.4"/><ellipse cx="6.3" cy="6.6" rx="3.1" ry="3.5" fill="#d9a27a"/><path d="M2.9 6.4 Q2.7 2.4 6.3 2.4 Q9.9 2.4 9.7 6.4 Q8.8 4.4 6.3 4.5 Q3.8 4.4 2.9 6.4 Z" fill="#c8321f"/><path d="M3.4 7.6 Q3.8 10.3 6.3 10.3 Q8.8 10.3 9.2 7.6 Q8.5 9.2 6.3 9.2 Q4.1 9.2 3.4 7.6 Z" fill="#c8321f" opacity="0.75"/><circle cx="5.1" cy="6.5" r="0.45" fill="#222"/><circle cx="7.5" cy="6.5" r="0.45" fill="#222"/></svg>
<div class="t" style="left:1118.00px;top:841.62px;font-size:10.90px;color:#2e2e2e;">Smith Lovell</div>
<div class="t" style="left:1118.00px;top:854.49px;font-size:10.40px;color:#a8a8a8;">@Texas</div>
<div class="r" style="left:1200.80px;top:842.00px;width:68.60px;height:24.20px;background:#e7f5eb;border-radius:5.00px;"></div>
<div class="t" style="left:1235.10px;top:848.59px;font-size:10.40px;color:#44ab68;transform:translateX(-50%);">Completed</div>
<div class="t" style="left:1332.20px;top:848.69px;font-size:10.40px;color:#a5a5a5;transform:translateX(-100%);">$682.00</div>
<svg class="s" style="left:1086.80px;top:877.80px;" width="25.20" height="25.20" viewBox="0 0 12.6 12.6"><circle cx="6.3" cy="6.3" r="6.2" fill="#e2eff0" stroke="#d5e8ea" stroke-width="0.4"/><ellipse cx="6.3" cy="6.6" rx="3.1" ry="3.5" fill="#e3b48e"/><path d="M2.9 6.4 Q2.7 2.4 6.3 2.4 Q9.9 2.4 9.7 6.4 Q8.8 4.4 6.3 4.5 Q3.8 4.4 2.9 6.4 Z" fill="#8c7b62"/><path d="M3.4 7.6 Q3.8 10.3 6.3 10.3 Q8.8 10.3 9.2 7.6 Q8.5 9.2 6.3 9.2 Q4.1 9.2 3.4 7.6 Z" fill="#8c7b62" opacity="0.75"/><circle cx="5.1" cy="6.5" r="0.45" fill="#222"/><circle cx="7.5" cy="6.5" r="0.45" fill="#222"/></svg>
<div class="t" style="left:1118.00px;top:878.02px;font-size:10.90px;color:#2e2e2e;">Jones Brooks</div>
<div class="t" style="left:1118.00px;top:890.89px;font-size:10.40px;color:#a8a8a8;">@Texas</div>
<div class="r" style="left:1202.40px;top:878.40px;width:67.00px;height:24.20px;background:#fdf2e3;border-radius:5.00px;"></div>
<div class="t" style="left:1235.90px;top:884.99px;font-size:10.40px;color:#f0a03c;transform:translateX(-50%);">Pending</div>
<div class="t" style="left:1332.20px;top:885.09px;font-size:10.40px;color:#a5a5a5;transform:translateX(-100%);">$387.00</div>
<svg class="s" style="left:1086.80px;top:914.20px;" width="25.20" height="25.20" viewBox="0 0 12.6 12.6"><circle cx="6.3" cy="6.3" r="6.2" fill="#e2eff0" stroke="#d5e8ea" stroke-width="0.4"/><ellipse cx="6.3" cy="6.6" rx="3.1" ry="3.5" fill="#8a5a44"/><path d="M2.9 6.4 Q2.7 2.4 6.3 2.4 Q9.9 2.4 9.7 6.4 Q8.8 4.4 6.3 4.5 Q3.8 4.4 2.9 6.4 Z" fill="#c2306f"/><path d="M3.4 7.6 Q3.8 10.3 6.3 10.3 Q8.8 10.3 9.2 7.6 Q8.5 9.2 6.3 9.2 Q4.1 9.2 3.4 7.6 Z" fill="#c2306f" opacity="0.75"/><circle cx="5.1" cy="6.5" r="0.45" fill="#222"/><circle cx="7.5" cy="6.5" r="0.45" fill="#222"/></svg>
<div class="t" style="left:1118.00px;top:914.42px;font-size:10.90px;color:#2e2e2e;">Brown Acum</div>
<div class="t" style="left:1118.00px;top:927.29px;font-size:10.40px;color:#a8a8a8;">@Texas</div>
<div class="r" style="left:1202.40px;top:914.80px;width:67.00px;height:24.20px;background:#fde9e7;border-radius:5.00px;"></div>
<div class="t" style="left:1235.90px;top:921.39px;font-size:10.40px;color:#e2574c;transform:translateX(-50%);">Canceled</div>
<div class="t" style="left:1332.20px;top:921.49px;font-size:10.40px;color:#a5a5a5;transform:translateX(-100%);">$355.00</div>
<svg class="s" style="left:1086.80px;top:950.60px;" width="25.20" height="25.20" viewBox="0 0 12.6 12.6"><circle cx="6.3" cy="6.3" r="6.2" fill="#e2eff0" stroke="#d5e8ea" stroke-width="0.4"/><ellipse cx="6.3" cy="6.6" rx="3.1" ry="3.5" fill="#d9ad8a"/><path d="M2.9 6.4 Q2.7 2.4 6.3 2.4 Q9.9 2.4 9.7 6.4 Q8.8 4.4 6.3 4.5 Q3.8 4.4 2.9 6.4 Z" fill="#5b5248"/><path d="M3.4 7.6 Q3.8 10.3 6.3 10.3 Q8.8 10.3 9.2 7.6 Q8.5 9.2 6.3 9.2 Q4.1 9.2 3.4 7.6 Z" fill="#5b5248" opacity="0.75"/><circle cx="5.1" cy="6.5" r="0.45" fill="#222"/><circle cx="7.5" cy="6.5" r="0.45" fill="#222"/></svg>
<div class="t" style="left:1118.00px;top:950.82px;font-size:10.90px;color:#2e2e2e;">Evans Mays</div>
<div class="t" style="left:1118.00px;top:963.69px;font-size:10.40px;color:#a8a8a8;">@Texas</div>
<div class="r" style="left:1199.80px;top:951.20px;width:67.60px;height:24.20px;background:#e7f5eb;border-radius:5.00px;"></div>
<div class="t" style="left:1233.60px;top:957.79px;font-size:10.40px;color:#44ab68;transform:translateX(-50%);">Completed</div>
<div class="t" style="left:1332.20px;top:957.89px;font-size:10.40px;color:#a5a5a5;transform:translateX(-100%);">$584.00</div>
<svg class="s" style="left:1086.80px;top:987.00px;" width="25.20" height="25.20" viewBox="0 0 12.6 12.6"><circle cx="6.3" cy="6.3" r="6.2" fill="#e2eff0" stroke="#d5e8ea" stroke-width="0.4"/><ellipse cx="6.3" cy="6.6" rx="3.1" ry="3.5" fill="#e6b58e"/><path d="M2.9 6.4 Q2.7 2.4 6.3 2.4 Q9.9 2.4 9.7 6.4 Q8.8 4.4 6.3 4.5 Q3.8 4.4 2.9 6.4 Z" fill="#1f2a33"/><path d="M3.4 7.6 Q3.8 10.3 6.3 10.3 Q8.8 10.3 9.2 7.6 Q8.5 9.2 6.3 9.2 Q4.1 9.2 3.4 7.6 Z" fill="#1f2a33" opacity="0.75"/><circle cx="5.1" cy="6.5" r="0.45" fill="#222"/><circle cx="7.5" cy="6.5" r="0.45" fill="#222"/></svg>
<div class="t" style="left:1118.00px;top:987.22px;font-size:10.90px;color:#2e2e2e;">Wilson Pipes</div>
<div class="t" style="left:1118.00px;top:1000.09px;font-size:10.40px;color:#a8a8a8;">@Texas</div>
<div class="r" style="left:1202.40px;top:987.60px;width:68.60px;height:24.20px;background:#e7f5eb;border-radius:5.00px;"></div>
<div class="t" style="left:1236.70px;top:994.19px;font-size:10.40px;color:#44ab68;transform:translateX(-50%);">Completed</div>
<div class="t" style="left:1332.20px;top:994.29px;font-size:10.40px;color:#a5a5a5;transform:translateX(-100%);">$954.00</div>
<svg class="s" style="left:1086.80px;top:1023.40px;" width="25.20" height="25.20" viewBox="0 0 12.6 12.6"><circle cx="6.3" cy="6.3" r="6.2" fill="#e2eff0" stroke="#d5e8ea" stroke-width="0.4"/><ellipse cx="6.3" cy="6.6" rx="3.1" ry="3.5" fill="#c9946e"/><path d="M2.9 6.4 Q2.7 2.4 6.3 2.4 Q9.9 2.4 9.7 6.4 Q8.8 4.4 6.3 4.5 Q3.8 4.4 2.9 6.4 Z" fill="#2b2420"/><path d="M3.4 7.6 Q3.8 10.3 6.3 10.3 Q8.8 10.3 9.2 7.6 Q8.5 9.2 6.3 9.2 Q4.1 9.2 3.4 7.6 Z" fill="#2b2420" opacity="0.75"/><circle cx="5.1" cy="6.5" r="0.45" fill="#222"/><circle cx="7.5" cy="6.5" r="0.45" fill="#222"/></svg>
<div class="t" style="left:1118.00px;top:1023.62px;font-size:10.90px;color:#2e2e2e;">Alice Pindar</div>
<div class="t" style="left:1118.00px;top:1036.49px;font-size:10.40px;color:#a8a8a8;">@Texas</div>
<div class="r" style="left:1200.80px;top:1024.00px;width:66.60px;height:24.20px;background:#fde9e7;border-radius:5.00px;"></div>
<div class="t" style="left:1234.10px;top:1030.59px;font-size:10.40px;color:#e2574c;transform:translateX(-50%);">Canceled</div>
<div class="t" style="left:1332.20px;top:1030.69px;font-size:10.40px;color:#a5a5a5;transform:translateX(-100%);">$756.00</div>
<div class="r" style="left:200.00px;top:1092.40px;width:273.40px;height:187.60px;background:#fff;border-radius:16.00px;"></div>
<div class="t" style="left:213.40px;top:1110.13px;font-size:14.84px;color:#2b2b2b;font-weight:700;">News &amp; Update</div>
<div class="r" style="left:429.40px;top:1106.00px;width:30.20px;height:23.20px;background:#f8f7f5;border-radius:5.00px;border:1.00px solid #ebe9e6;box-sizing:border-box;"></div>
<div class="t" style="left:444.50px;top:1111.70px;font-size:10.00px;color:#333;font-weight:700;transform:translateX(-50%);">···</div>
<svg class="s" style="left:213.40px;top:1149.20px;" width="33.60" height="24.00" viewBox="0 0 16.8 12"><defs><linearGradient id="tg1" x1="0" y1="0" x2="1" y2="1"><stop offset="0" stop-color="#8fd3f5"/><stop offset="1" stop-color="#c7b3f4"/></linearGradient></defs><rect width="16.8" height="12" rx="1.5" fill="url(#tg1)"/><path d="M0 9 Q5 5 9 7 Q13 9 16.8 5 L16.8 7.5 Q13 11 9 9.3 Q5 7.5 0 11.5 Z" fill="#eef0ff" opacity="0.8"/><path d="M2 5 Q6 2 10 4 Q13 5.5 16 3" stroke="#b6a3f2" stroke-width="1.6" fill="none"/><path d="M3 10 L12 3.5" stroke="#f6c6ea" stroke-width="0.8" opacity="0.8"/></svg>
<div class="t" style="left:252.20px;top:1149.52px;font-size:11.10px;color:#2e2e2e;">Google project apply reviwe</div>
<div class="t" style="left:252.20px;top:1161.18px;font-size:10.60px;color:#a8a8a8;">Today's news....</div>
<div class="r" style="left:407.80px;top:1151.40px;width:51.80px;height:19.80px;background:#f8f7f5;border-radius:5.00px;border:1.00px solid #ebe9e6;box-sizing:border-box;"></div>
<div class="t" style="left:433.70px;top:1155.78px;font-size:10.60px;color:#333;transform:translateX(-50%);">2 hours</div>
<svg class="s" style="left:213.40px;top:1185.10px;" width="33.60" height="24.00" viewBox="0 0 16.8 12"><rect width="16.8" height="12" rx="1.5" fill="#5a62ee"/><path d="M8 6.5 L15.5 1.2 L16.8 2 L16.8 6 Q13 8.5 9 8.2 Z" fill="#e7532f"/><path d="M9 6.5 L14.5 2.5 L15.5 4.5 L10.5 7.3 Z" fill="#f5b335"/><path d="M10 5.8 L13.5 3.4 L14 4.4 L10.8 6.5 Z" fill="#3cc49a"/><path d="M1 10 Q2 7 4.5 8 Q6 6 8 8.5 Q7 11 4 10.8 Q2 11.5 1 10 Z" fill="#fff"/><path d="M4 12 Q9 10 16.8 11" stroke="#fff" stroke-width="0.8" fill="none" opacity="0.7"/></svg>
<div class="t" style="left:252.20px;top:1185.42px;font-size:11.10px;color:#2e2e2e;">Business logo create</div>
<div class="t" style="left:252.20px;top:1197.08px;font-size:10.60px;color:#a8a8a8;">check out the latest news....</div>
<div class="r" style="left:407.80px;top:1187.30px;width:51.80px;height:19.80px;background:#f8f7f5;border-radius:5.00px;border:1.00px solid #ebe9e6;box-sizing:border-box;"></div>
<div class="t" style="left:433.70px;top:1191.68px;font-size:10.60px;color:#333;transform:translateX(-50%);">4 hours</div>
<svg class="s" style="left:213.40px;top:1221.00px;" width="33.60" height="24.00" viewBox="0 0 16.8 12"><rect width="16.8" height="12" rx="1.5" fill="#efdad5"/><circle cx="5" cy="6" r="3.3" fill="#2f8a6a"/><circle cx="10.5" cy="5.2" r="2.3" fill="#f2c14a"/><circle cx="13.8" cy="2.6" r="1.4" fill="#274a8e"/><path d="M7.5 12 L10 8 L12.8 12 Z" fill="#f2b33c"/><circle cx="13.5" cy="8.8" r="1.6" fill="#2b4f9a"/><circle cx="3.5" cy="10.6" r="1" fill="#f2b33c"/><circle cx="8" cy="2.2" r="0.9" fill="#e8a03a"/></svg>
<div class="t" style="left:252.20px;top:1221.32px;font-size:11.10px;color:#2e2e2e;">Business project research</div>
<div class="t" style="left:252.20px;top:1232.98px;font-size:10.60px;color:#a8a8a8;">News in english: get all...</div>
<div class="r" style="left:407.80px;top:1223.20px;width:51.80px;height:19.80px;background:#f8f7f5;border-radius:5.00px;border:1.00px solid #ebe9e6;box-sizing:border-box;"></div>
<div class="t" style="left:433.70px;top:1227.58px;font-size:10.60px;color:#333;transform:translateX(-50%);">6 hours</div>
<div class="r" style="left:490.00px;top:1092.40px;width:274.00px;height:187.60px;background:#fff;border-radius:16.00px;"></div>
<div class="t" style="left:505.20px;top:1110.03px;font-size:14.66px;color:#2b2b2b;font-weight:700;">Total Invest</div>
<div class="r" style="left:720.80px;top:1106.40px;width:29.40px;height:22.40px;background:#f8f7f5;border-radius:5.00px;border:1.00px solid #ebe9e6;box-sizing:border-box;"></div>
<div class="t" style="left:735.50px;top:1111.70px;font-size:10.00px;color:#333;font-weight:700;transform:translateX(-50%);">···</div>
<svg class="s" style="left:528.00px;top:1140.20px;" width="200.00" height="200.00" viewBox="0 0 100 100"><path d="M9.700000000000003 50 A40.3 40.3 0 0 1 90.3 50" stroke="#e3efed" stroke-width="14.4" fill="none"/><path d="M9.700000000000003 50 A40.3 40.3 0 0 1 44.95 10.02" stroke="#4a9c92" stroke-width="14.4" fill="none" stroke-linecap="round"/><path d="M9.700000000000003 50 L9.700000000000003 60" stroke="#4a9c92" stroke-width="14.4"/></svg>
<div class="t" style="left:628.00px;top:1216.96px;font-size:11.78px;color:#2e2e2e;font-weight:700;transform:translateX(-50%);">March, 2024</div>
<div class="t" style="left:628.00px;top:1235.52px;font-size:9.20px;color:#a5a5a5;transform:translateX(-50%);">46%</div>
<svg class="s" style="left:619.20px;top:1244.60px;" width="16.00" height="10.00" viewBox="0 0 8 5"><path d="M0.6 5 L0.6 3 M2.6 5 L2.6 1.8 M4.6 5 L4.6 1 M6.6 5 L6.6 2.4" stroke="#2e2e2e" stroke-width="1"/></svg>
<div class="r" style="left:781.60px;top:1092.40px;width:565.40px;height:187.60px;background:#fff;border-radius:16.00px;"></div>
<div class="t" style="left:795.40px;top:1107.37px;font-size:14.40px;color:#2b2b2b;font-weight:700;">Manage Invoice</div>
<div class="t" style="left:1176.60px;top:1111.10px;font-size:10.38px;color:#333;">Search:</div>
<div class="r" style="left:1218.60px;top:1104.40px;width:106.40px;height:24.40px;background:#fff;border-radius:4.00px;border:1.20px solid #e9e7e4;box-sizing:border-box;"></div>
<div class="r" style="left:796.20px;top:1139.40px;width:13.00px;height:13.00px;background:#fff;border-radius:2.00px;border:1.20px solid #dedcd9;box-sizing:border-box;"></div>
<div class="t" style="left:834.60px;top:1139.97px;font-size:11.00px;color:#a3a3a3;">Client</div>
<div class="t" style="left:921.80px;top:1139.97px;font-size:11.00px;color:#a3a3a3;">Date</div>
<div class="t" style="left:979.40px;top:1139.97px;font-size:11.00px;color:#a3a3a3;">Payment</div>
<div class="t" style="left:1081.60px;top:1139.97px;font-size:11.00px;color:#a3a3a3;">Id No</div>
<div class="t" style="left:1132.00px;top:1139.97px;font-size:11.00px;color:#a3a3a3;">Amount</div>
<div class="t" style="left:1265.00px;top:1139.97px;font-size:11.00px;color:#a3a3a3;transform:translateX(-50%);">Status</div>
<div class="r" style="left:795.40px;top:1160.00px;width:535.60px;height:1.00px;background:#efedea;border-radius:0.00px;"></div>
<div class="r" style="left:796.20px;top:1171.30px;width:13.00px;height:13.00px;background:#fff;border-radius:2.00px;border:1.20px solid #dedcd9;box-sizing:border-box;"></div>
<div class="t" style="left:834.60px;top:1172.08px;font-size:10.80px;color:#2e2e2e;">Comelane</div>
<div class="t" style="left:921.80px;top:1172.08px;font-size:10.80px;color:#a8a8a8;">27 Nov</div>
<div class="t" style="left:979.40px;top:1172.08px;font-size:10.80px;color:#2e2e2e;">Private</div>
<div class="t" style="left:1081.60px;top:1172.08px;font-size:10.80px;color:#a8a8a8;">9605</div>
<div class="t" style="left:1132.00px;top:1172.08px;font-size:10.80px;color:#2e2e2e;">$2,500</div>
<div class="r" style="left:1244.00px;top:1164.80px;width:82.80px;height:26.20px;background:#e7f5eb;border-radius:5.00px;"></div>
<div class="t" style="left:1285.40px;top:1172.28px;font-size:10.60px;color:#44ab68;transform:translateX(-50%);">Completed</div>
<svg class="s" style="left:796.20px;top:1210.50px;" width="13.00" height="13.00" viewBox="0 0 6.5 6.5"><rect width="6.5" height="6.5" rx="1" fill="#308e87"/><path d="M1.6 3.3 L2.8 4.5 L5 2.1" stroke="#fff" stroke-width="0.8" fill="none"/></svg>
<div class="t" style="left:834.60px;top:1211.28px;font-size:10.80px;color:#2e2e2e;">Diagnos</div>
<div class="t" style="left:921.80px;top:1211.28px;font-size:10.80px;color:#a8a8a8;">30 Nov</div>
<div class="t" style="left:979.40px;top:1211.28px;font-size:10.80px;color:#2e2e2e;">Bill Payment</div>
<div class="t" style="left:1081.60px;top:1211.28px;font-size:10.80px;color:#a8a8a8;">9548</div>
<div class="t" style="left:1132.00px;top:1211.28px;font-size:10.80px;color:#2e2e2e;">$4,560</div>
<div class="r" style="left:1244.00px;top:1204.00px;width:82.80px;height:26.20px;background:#e7f5eb;border-radius:5.00px;"></div>
<div class="t" style="left:1285.40px;top:1211.48px;font-size:10.60px;color:#44ab68;transform:translateX(-50%);">Completed</div>
<div class="r" style="left:796.20px;top:1249.70px;width:13.00px;height:13.00px;background:#fff;border-radius:2.00px;border:1.20px solid #dedcd9;box-sizing:border-box;"></div>
<div class="t" style="left:834.60px;top:1250.48px;font-size:10.80px;color:#2e2e2e;">Nexus</div>
<div class="t" style="left:921.80px;top:1250.48px;font-size:10.80px;color:#a8a8a8;">02 Dec</div>
<div class="t" style="left:979.40px;top:1250.48px;font-size:10.80px;color:#2e2e2e;">Credit</div>
<div class="t" style="left:1081.60px;top:1250.48px;font-size:10.80px;color:#a8a8a8;">9612</div>
<div class="t" style="left:1132.00px;top:1250.48px;font-size:10.80px;color:#2e2e2e;">$1,250</div>
<div class="r" style="left:1244.00px;top:1243.20px;width:82.80px;height:26.20px;background:#fdf2e3;border-radius:5.00px;"></div>
<div class="t" style="left:1285.40px;top:1250.68px;font-size:10.60px;color:#f0a03c;transform:translateX(-50%);">Pending</div>
</div>
</body></html>
